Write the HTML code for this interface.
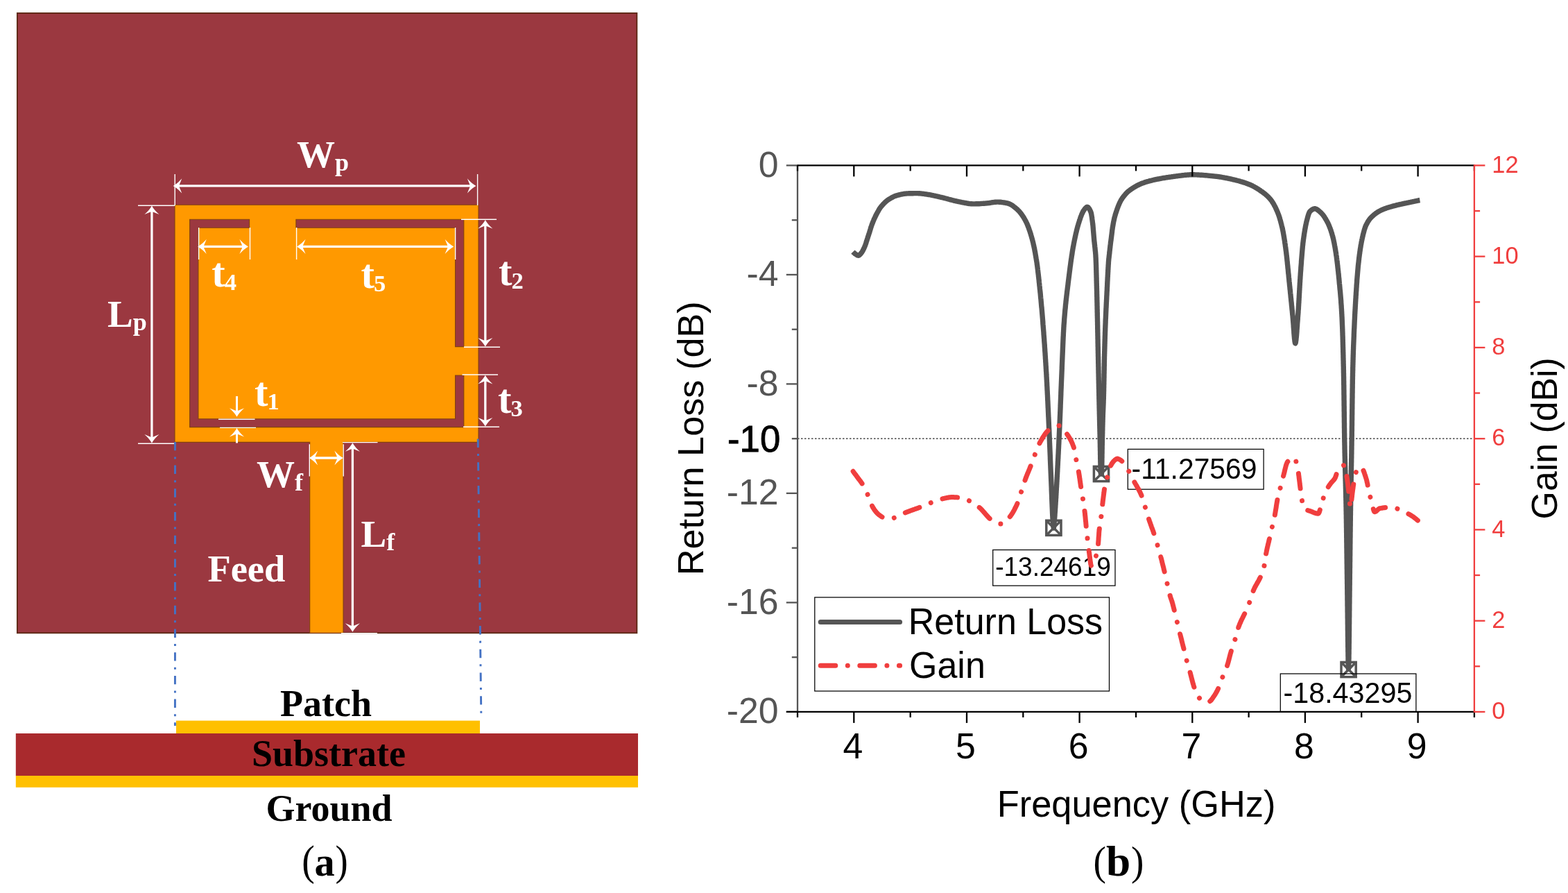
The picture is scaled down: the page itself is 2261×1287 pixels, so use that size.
<!DOCTYPE html>
<html lang="en"><head><meta charset="utf-8"><title>Patch antenna geometry and return loss / gain</title>
<style>
html,body{margin:0;padding:0;background:#fff;}
body{width:2261px;height:1287px;overflow:hidden;}
svg{display:block;position:absolute;left:0;top:0;}
text{white-space:pre;}
</style></head><body>
<svg width="2261" height="1287" viewBox="0 0 2261 1287">
<rect x="0" y="0" width="2261" height="1287" fill="#fff"/>

<g id="antenna">
<rect x="24.9" y="18.9" width="893.45" height="893.35" fill="#9B3840" stroke="#5E2A16" stroke-width="1.9"/>
<polygon points="252.0,295.2 690.0,295.2 690.0,637.4 495.0,637.4 495.0,912.2 446.7,912.2 446.7,637.4 252.0,637.4" fill="#FF9900" stroke="#82420F" stroke-width="1.1" stroke-linejoin="miter"/>
<polygon points="273.6,316.3 359.6,316.3 359.6,328.3 285.9,328.3 285.9,603.8 656.5,603.8 656.5,541.0 668.8,541.0 668.8,615.6 273.6,615.6" fill="#9B3840" stroke="#82420F" stroke-width="1.1" stroke-linejoin="miter"/>
<polygon points="426.9,316.3 668.8,316.3 668.8,499.6 656.5,499.6 656.5,328.3 426.9,328.3" fill="#9B3840" stroke="#82420F" stroke-width="1.1" stroke-linejoin="miter"/>
<line x1="252.2" y1="251" x2="252.2" y2="296" stroke="#fff" stroke-width="1.4"/>
<line x1="688.6" y1="251" x2="688.6" y2="296" stroke="#fff" stroke-width="1.4"/>
<line x1="253.7" y1="267.9" x2="682.4" y2="267.9" stroke="#fff" stroke-width="3.3"/><path d="M0,0 Q-6.30,-3.39 -12.6,-10.6 L-8.2,0 L-12.6,10.6 Q-6.30,3.39 0,0 Z" fill="#fff" transform="translate(249.7,267.9) rotate(180)"/><path d="M0,0 Q-6.30,-3.39 -12.6,-10.6 L-8.2,0 L-12.6,10.6 Q-6.30,3.39 0,0 Z" fill="#fff" transform="translate(686.4,267.9) rotate(0)"/>
<line x1="199" y1="296.2" x2="252" y2="296.2" stroke="#fff" stroke-width="1.4"/>
<line x1="199" y1="639.3" x2="252" y2="639.3" stroke="#fff" stroke-width="1.4"/>
<line x1="218.9" y1="300.5" x2="218.9" y2="634.6" stroke="#fff" stroke-width="3.3"/><path d="M0,0 Q-6.30,-3.39 -12.6,-10.6 L-8.2,0 L-12.6,10.6 Q-6.30,3.39 0,0 Z" fill="#fff" transform="translate(218.9,296.5) rotate(-90)"/><path d="M0,0 Q-6.30,-3.39 -12.6,-10.6 L-8.2,0 L-12.6,10.6 Q-6.30,3.39 0,0 Z" fill="#fff" transform="translate(218.9,638.6) rotate(90)"/>
<line x1="286.6" y1="328" x2="286.6" y2="374" stroke="#fff" stroke-width="1.4"/>
<line x1="360.5" y1="328" x2="360.5" y2="374" stroke="#fff" stroke-width="1.4"/>
<line x1="289.2" y1="355.4" x2="354" y2="355.4" stroke="#fff" stroke-width="3.3"/><path d="M0,0 Q-6.30,-3.39 -12.6,-10.6 L-8.2,0 L-12.6,10.6 Q-6.30,3.39 0,0 Z" fill="#fff" transform="translate(285.2,355.4) rotate(180)"/><path d="M0,0 Q-6.30,-3.39 -12.6,-10.6 L-8.2,0 L-12.6,10.6 Q-6.30,3.39 0,0 Z" fill="#fff" transform="translate(358,355.4) rotate(0)"/>
<line x1="427.6" y1="328" x2="427.6" y2="374" stroke="#fff" stroke-width="1.4"/>
<line x1="656.6" y1="328" x2="656.6" y2="374" stroke="#fff" stroke-width="1.4"/>
<line x1="432" y1="355.4" x2="650.2" y2="355.4" stroke="#fff" stroke-width="3.3"/><path d="M0,0 Q-6.30,-3.39 -12.6,-10.6 L-8.2,0 L-12.6,10.6 Q-6.30,3.39 0,0 Z" fill="#fff" transform="translate(428,355.4) rotate(180)"/><path d="M0,0 Q-6.30,-3.39 -12.6,-10.6 L-8.2,0 L-12.6,10.6 Q-6.30,3.39 0,0 Z" fill="#fff" transform="translate(654.2,355.4) rotate(0)"/>
<line x1="665" y1="316.2" x2="716" y2="316.2" stroke="#fff" stroke-width="1.4"/>
<line x1="669" y1="500.2" x2="721" y2="500.2" stroke="#fff" stroke-width="1.4"/>
<line x1="699.8" y1="321" x2="699.8" y2="495.5" stroke="#fff" stroke-width="3.3"/><path d="M0,0 Q-6.30,-3.39 -12.6,-10.6 L-8.2,0 L-12.6,10.6 Q-6.30,3.39 0,0 Z" fill="#fff" transform="translate(699.8,317) rotate(-90)"/><path d="M0,0 Q-6.30,-3.39 -12.6,-10.6 L-8.2,0 L-12.6,10.6 Q-6.30,3.39 0,0 Z" fill="#fff" transform="translate(699.8,499.5) rotate(90)"/>
<line x1="666.5" y1="540" x2="718" y2="540" stroke="#fff" stroke-width="1.4"/>
<line x1="668" y1="615.2" x2="720" y2="615.2" stroke="#fff" stroke-width="1.4"/>
<line x1="699.8" y1="544.8" x2="699.8" y2="610.5" stroke="#fff" stroke-width="3.3"/><path d="M0,0 Q-6.30,-3.39 -12.6,-10.6 L-8.2,0 L-12.6,10.6 Q-6.30,3.39 0,0 Z" fill="#fff" transform="translate(699.8,540.8) rotate(-90)"/><path d="M0,0 Q-6.30,-3.39 -12.6,-10.6 L-8.2,0 L-12.6,10.6 Q-6.30,3.39 0,0 Z" fill="#fff" transform="translate(699.8,614.5) rotate(90)"/>
<line x1="315" y1="604.2" x2="367.5" y2="604.2" stroke="#fff" stroke-width="1.4"/>
<line x1="317" y1="616.4" x2="369" y2="616.4" stroke="#fff" stroke-width="1.4"/>
<line x1="341.5" y1="571" x2="341.5" y2="595" stroke="#fff" stroke-width="3"/><path d="M0,0 Q-6.30,-3.39 -12.6,-10.6 L-8.2,0 L-12.6,10.6 Q-6.30,3.39 0,0 Z" fill="#fff" transform="translate(341.5,600.8) rotate(90)"/>
<line x1="341.5" y1="638.5" x2="341.5" y2="622" stroke="#fff" stroke-width="3"/><path d="M0,0 Q-6.30,-3.39 -12.6,-10.6 L-8.2,0 L-12.6,10.6 Q-6.30,3.39 0,0 Z" fill="#fff" transform="translate(341.5,617) rotate(-90)"/>
<line x1="446.3" y1="640.3" x2="446.3" y2="686.5" stroke="#fff" stroke-width="1.4"/>
<line x1="495.2" y1="640.3" x2="495.2" y2="686.5" stroke="#fff" stroke-width="1.4"/>
<line x1="449.6" y1="660" x2="490.9" y2="660" stroke="#fff" stroke-width="3.3"/><path d="M0,0 Q-6.30,-3.39 -12.6,-10.6 L-8.2,0 L-12.6,10.6 Q-6.30,3.39 0,0 Z" fill="#fff" transform="translate(445.6,660) rotate(180)"/><path d="M0,0 Q-6.30,-3.39 -12.6,-10.6 L-8.2,0 L-12.6,10.6 Q-6.30,3.39 0,0 Z" fill="#fff" transform="translate(494.9,660) rotate(0)"/>
<line x1="494" y1="637.6" x2="544.5" y2="637.6" stroke="#fff" stroke-width="1.4"/>
<line x1="492" y1="912.6" x2="544" y2="912.6" stroke="#fff" stroke-width="1.4"/>
<line x1="508.4" y1="642.2" x2="508.4" y2="906.8" stroke="#fff" stroke-width="3.3"/><path d="M0,0 Q-6.30,-3.39 -12.6,-10.6 L-8.2,0 L-12.6,10.6 Q-6.30,3.39 0,0 Z" fill="#fff" transform="translate(508.4,638.2) rotate(-90)"/><path d="M0,0 Q-6.30,-3.39 -12.6,-10.6 L-8.2,0 L-12.6,10.6 Q-6.30,3.39 0,0 Z" fill="#fff" transform="translate(508.4,910.8) rotate(90)"/>
<text x="428" y="241" font-family='"Liberation Serif", "DejaVu Serif", serif' font-weight="bold" fill="#fff" font-size="55">W<tspan font-size="36" dy="5" dx="0">p</tspan></text>
<text x="155" y="471" font-family='"Liberation Serif", "DejaVu Serif", serif' font-weight="bold" fill="#fff" font-size="55">L<tspan font-size="36" dy="5" dx="0">p</tspan></text>
<text font-family='"Liberation Serif", "DejaVu Serif", serif' font-weight="bold" fill="#fff"><tspan x="305.3" y="412.9" font-size="58.85" textLength="19.414" lengthAdjust="spacingAndGlyphs">t</tspan><tspan x="323.71" y="417.7" font-size="34.6">4</tspan></text>
<text font-family='"Liberation Serif", "DejaVu Serif", serif' font-weight="bold" fill="#fff"><tspan x="520.5" y="415.3" font-size="58.85" textLength="19.414" lengthAdjust="spacingAndGlyphs">t</tspan><tspan x="538.91" y="420.1" font-size="34.6">5</tspan></text>
<text font-family='"Liberation Serif", "DejaVu Serif", serif' font-weight="bold" fill="#fff"><tspan x="719" y="411.1" font-size="58.85" textLength="19.414" lengthAdjust="spacingAndGlyphs">t</tspan><tspan x="737.41" y="415.9" font-size="34.6">2</tspan></text>
<text font-family='"Liberation Serif", "DejaVu Serif", serif' font-weight="bold" fill="#fff"><tspan x="718" y="595.3" font-size="58.85" textLength="19.414" lengthAdjust="spacingAndGlyphs">t</tspan><tspan x="736.41" y="600.1" font-size="34.6">3</tspan></text>
<text font-family='"Liberation Serif", "DejaVu Serif", serif' font-weight="bold" fill="#fff"><tspan x="367" y="584.8" font-size="58.85" textLength="19.414" lengthAdjust="spacingAndGlyphs">t</tspan><tspan x="385.41" y="589.6" font-size="34.6">1</tspan></text>
<text x="370" y="702" font-family='"Liberation Serif", "DejaVu Serif", serif' font-weight="bold" fill="#fff" font-size="55">W<tspan font-size="36" dy="5" dx="0">f</tspan></text>
<text x="520.5" y="788.3" font-family='"Liberation Serif", "DejaVu Serif", serif' font-weight="bold" fill="#fff" font-size="55">L<tspan font-size="36" dy="5" dx="0">f</tspan></text>
<text x="299.4" y="838" font-family='"Liberation Serif", "DejaVu Serif", serif' font-size="54.5" font-weight="bold" fill="#fff" text-anchor="start" >Feed</text>
<line x1="252.5" y1="636.9" x2="252.4" y2="1046" stroke="#4472C4" stroke-width="2.9" stroke-dasharray="12.4,9.15,3,9.15"/>
<line x1="689.2" y1="632.5" x2="693.8" y2="1028" stroke="#4472C4" stroke-width="2.9" stroke-dasharray="12.4,9.15,3,9.15"/>
<rect x="254" y="1038.6" width="438" height="18.7" fill="#FFC000"/>
<rect x="22.8" y="1057" width="897.2" height="61.2" fill="#A92A2D"/>
<rect x="22.8" y="1118" width="897.2" height="16.8" fill="#FFC000"/>
<text x="470" y="1032.4" font-family='"Liberation Serif", "DejaVu Serif", serif' font-size="54" font-weight="bold" fill="#000" text-anchor="middle" >Patch</text>
<text x="474" y="1104.4" font-family='"Liberation Serif", "DejaVu Serif", serif' font-size="54" font-weight="bold" fill="#000" text-anchor="middle" >Substrate</text>
<text x="474.5" y="1182.6" font-family='"Liberation Serif", "DejaVu Serif", serif' font-size="54" font-weight="bold" fill="#000" text-anchor="middle" >Ground</text>
<text font-family='"Liberation Serif", "DejaVu Serif", serif' fill="#000"><tspan x="435.25" y="1261.18" font-size="60.22" font-weight="normal" textLength="18.541" lengthAdjust="spacingAndGlyphs">(</tspan><tspan x="453.52" y="1261.82" font-size="59.08" font-weight="bold" textLength="29.162" lengthAdjust="spacingAndGlyphs">a</tspan><tspan x="483.43" y="1261.18" font-size="60.22" font-weight="normal" textLength="18.282" lengthAdjust="spacingAndGlyphs">)</tspan></text>
</g>
<g id="chart">
<line x1="1150.0" y1="632.2" x2="2125.9" y2="632.2" stroke="#222" stroke-width="1.2" stroke-dasharray="2.5,2.5"/>
<polyline points="1229.9,363.0 1230.7,363.8 1231.6,364.6 1232.5,365.4 1233.5,366.1 1234.0,366.4 1234.5,366.7 1235.5,367.4 1236.5,368.0 1237.6,368.3 1237.8,368.3 1238.7,368.0 1239.8,367.1 1240.6,366.2 1241.4,365.3 1241.5,365.2 1242.2,364.3 1242.9,363.3 1243.6,362.2 1244.2,361.2 1244.7,360.1 1245.3,359.0 1245.8,357.9 1245.8,357.9 1246.3,356.7 1246.8,355.6 1247.2,354.5 1247.7,353.3 1248.1,352.2 1248.5,351.0 1248.9,349.9 1249.2,348.7 1249.6,347.6 1250.0,346.4 1250.3,345.3 1250.7,344.1 1251.1,343.0 1251.4,341.8 1251.8,340.7 1252.2,339.6 1252.3,339.2 1252.6,338.4 1252.9,337.3 1253.3,336.1 1253.7,335.0 1254.0,333.8 1254.4,332.7 1254.7,331.5 1255.1,330.4 1255.4,329.2 1255.8,328.1 1256.1,327.0 1256.5,325.9 1256.9,324.7 1257.3,323.6 1257.4,323.4 1257.7,322.5 1258.2,321.4 1258.6,320.3 1259.0,319.2 1259.5,318.1 1259.9,317.0 1260.4,315.9 1260.9,314.8 1261.4,313.8 1261.9,312.7 1262.4,311.6 1262.9,310.5 1263.5,309.5 1263.5,309.4 1264.0,308.4 1264.6,307.4 1265.1,306.3 1265.7,305.3 1266.3,304.3 1266.9,303.2 1267.5,302.2 1268.1,301.2 1268.8,300.2 1269.4,299.2 1270.1,298.3 1270.8,297.4 1270.9,297.3 1271.6,296.5 1272.4,295.6 1273.2,294.7 1274.0,293.8 1274.8,293.0 1275.7,292.1 1276.5,291.3 1277.4,290.5 1278.3,289.8 1279.2,289.0 1280.2,288.3 1281.1,287.6 1282.1,287.0 1282.1,287.0 1283.2,286.4 1284.2,285.8 1285.2,285.2 1286.3,284.6 1287.3,284.1 1288.4,283.5 1289.5,283.0 1290.6,282.6 1291.7,282.2 1292.8,281.8 1294.0,281.5 1294.2,281.4 1295.2,281.2 1296.3,280.9 1297.5,280.6 1298.6,280.3 1299.8,280.0 1301.0,279.8 1302.2,279.6 1303.3,279.4 1304.5,279.2 1305.7,279.1 1306.9,279.0 1308.1,278.9 1308.2,278.9 1309.3,278.9 1310.5,278.8 1311.7,278.8 1312.9,278.7 1314.1,278.7 1315.3,278.7 1316.5,278.7 1317.7,278.6 1318.9,278.6 1320.1,278.6 1321.3,278.6 1322.2,278.6 1322.5,278.6 1323.7,278.6 1324.9,278.7 1326.1,278.8 1327.3,278.9 1328.5,279.0 1329.7,279.1 1330.9,279.3 1332.1,279.4 1333.3,279.6 1334.4,279.8 1335.6,279.9 1336.2,280.0 1336.8,280.1 1338.0,280.3 1339.2,280.5 1340.4,280.7 1341.6,280.9 1342.7,281.1 1343.9,281.4 1345.1,281.6 1346.3,281.9 1347.4,282.1 1348.6,282.4 1349.8,282.7 1350.9,282.9 1352.1,283.2 1353.3,283.5 1354.5,283.7 1354.8,283.8 1355.6,284.0 1356.8,284.3 1358.0,284.5 1359.1,284.8 1360.3,285.1 1361.5,285.4 1362.6,285.7 1363.8,286.0 1364.9,286.3 1366.1,286.6 1367.3,287.0 1368.4,287.3 1369.6,287.6 1370.7,287.9 1371.9,288.2 1373.1,288.5 1374.2,288.8 1375.4,289.1 1376.6,289.4 1377.7,289.6 1378.9,289.9 1380.1,290.2 1381.2,290.4 1382.4,290.7 1383.6,290.9 1383.7,290.9 1384.8,291.1 1385.9,291.3 1387.1,291.6 1388.3,291.8 1389.5,292.0 1390.6,292.3 1391.8,292.5 1393.0,292.7 1394.2,293.0 1395.4,293.2 1396.5,293.3 1397.7,293.5 1398.9,293.6 1400.1,293.7 1401.3,293.8 1402.5,293.9 1403.6,293.9 1403.7,293.9 1404.9,293.9 1406.1,293.9 1407.3,293.8 1408.5,293.8 1409.7,293.8 1410.9,293.7 1412.1,293.7 1413.3,293.6 1414.5,293.5 1415.7,293.4 1416.9,293.4 1418.1,293.3 1419.3,293.2 1420.5,293.1 1421.0,293.1 1421.7,293.0 1422.9,292.9 1424.1,292.8 1425.3,292.6 1426.5,292.5 1427.6,292.3 1428.8,292.1 1430.0,291.9 1431.2,291.7 1432.4,291.6 1433.6,291.4 1434.8,291.3 1436.0,291.2 1437.2,291.1 1438.4,291.1 1438.4,291.1 1439.6,291.1 1440.8,291.2 1442.0,291.2 1443.2,291.3 1444.3,291.5 1445.5,291.6 1446.7,291.8 1447.9,292.0 1449.1,292.2 1450.3,292.5 1451.5,292.7 1452.6,292.9 1453.3,293.1 1453.8,293.2 1455.0,293.6 1456.1,294.1 1457.2,294.6 1458.2,295.2 1459.3,295.8 1460.3,296.5 1461.3,297.2 1462.2,298.0 1463.2,298.7 1464.1,299.5 1465.0,300.2 1465.7,300.8 1466.0,301.0 1466.9,301.8 1467.7,302.7 1468.6,303.5 1469.4,304.4 1470.2,305.3 1471.0,306.3 1471.8,307.2 1472.5,308.2 1473.2,309.2 1473.9,310.2 1474.6,311.2 1475.3,312.2 1475.9,313.2 1476.6,314.2 1477.2,315.3 1477.8,316.3 1478.2,317.0 1478.4,317.4 1479.0,318.5 1479.5,319.6 1480.1,320.7 1480.6,321.8 1481.1,322.9 1481.5,324.0 1482.0,325.1 1482.4,326.3 1482.9,327.4 1483.3,328.6 1483.7,329.7 1484.1,330.8 1484.5,332.0 1484.9,333.1 1485.3,334.3 1485.6,335.4 1486.0,336.6 1486.4,337.7 1486.7,338.9 1487.1,340.1 1487.4,341.2 1487.6,341.9 1487.7,342.4 1488.1,343.6 1488.4,344.7 1488.7,345.9 1489.0,347.1 1489.3,348.3 1489.6,349.4 1489.9,350.6 1490.1,351.8 1490.4,353.0 1490.7,354.2 1490.9,355.4 1491.2,356.6 1491.4,357.7 1491.7,358.9 1491.9,360.1 1492.1,361.3 1492.3,362.5 1492.6,363.7 1492.8,364.9 1493.0,366.1 1493.2,367.3 1493.4,368.4 1493.6,369.6 1493.8,370.8 1494.0,372.0 1494.2,373.2 1494.4,374.2 1494.4,374.4 1494.6,375.6 1494.8,376.8 1495.0,378.0 1495.2,379.2 1495.3,380.4 1495.5,381.6 1495.7,382.8 1495.8,384.0 1496.0,385.2 1496.1,386.4 1496.3,387.6 1496.4,388.8 1496.6,390.0 1496.7,391.2 1496.8,392.4 1497.0,393.6 1497.1,394.8 1497.3,396.0 1497.4,397.2 1497.5,398.4 1497.7,399.6 1497.8,400.8 1497.9,402.0 1498.1,403.2 1498.2,404.4 1498.3,405.6 1498.4,406.8 1498.6,408.0 1498.7,409.2 1498.8,410.4 1498.9,411.6 1499.1,412.8 1499.2,414.0 1499.2,414.0 1499.3,415.2 1499.4,416.4 1499.6,417.6 1499.7,418.8 1499.8,420.0 1499.9,421.2 1500.1,422.4 1500.2,423.6 1500.3,424.8 1500.4,426.0 1500.5,427.2 1500.6,428.4 1500.7,429.6 1500.9,430.8 1501.0,432.0 1501.1,433.2 1501.2,434.4 1501.3,435.6 1501.4,436.8 1501.5,437.9 1501.6,439.1 1501.7,440.3 1501.8,441.5 1501.9,442.7 1502.1,443.9 1502.2,445.1 1502.3,446.3 1502.4,447.5 1502.5,448.7 1502.6,449.9 1502.7,451.1 1502.8,452.3 1502.9,453.5 1503.0,454.7 1503.1,455.9 1503.2,457.1 1503.3,458.3 1503.4,459.5 1503.5,460.7 1503.6,461.9 1503.7,463.1 1503.8,464.3 1503.8,465.5 1503.9,466.7 1504.0,467.9 1504.1,468.7 1504.1,469.1 1504.2,470.3 1504.3,471.5 1504.4,472.7 1504.5,473.9 1504.6,475.1 1504.7,476.3 1504.8,477.5 1504.9,478.7 1505.0,479.9 1505.0,481.1 1505.1,482.3 1505.2,483.5 1505.3,484.7 1505.4,485.9 1505.5,487.1 1505.6,488.3 1505.7,489.5 1505.7,490.7 1505.8,491.9 1505.9,493.1 1506.0,494.3 1506.1,495.5 1506.2,496.7 1506.3,497.9 1506.3,499.1 1506.4,500.3 1506.5,501.5 1506.6,502.7 1506.7,503.9 1506.7,505.1 1506.8,506.3 1506.9,507.5 1507.0,508.7 1507.1,509.9 1507.1,511.1 1507.2,512.3 1507.3,513.5 1507.4,514.7 1507.4,515.9 1507.5,517.1 1507.6,518.3 1507.7,519.5 1507.7,520.7 1507.8,521.9 1507.9,523.1 1508.0,524.3 1508.0,525.5 1508.1,526.7 1508.2,527.9 1508.3,529.1 1508.3,530.3 1508.4,531.5 1508.5,532.7 1508.5,533.9 1508.6,535.1 1508.7,536.3 1508.8,537.5 1508.8,538.7 1508.9,539.9 1508.9,540.0 1509.0,541.2 1509.0,542.4 1509.1,543.6 1509.2,544.8 1509.2,546.0 1509.3,547.2 1509.4,548.4 1509.4,549.6 1509.5,550.8 1509.6,552.0 1509.6,553.2 1509.7,554.4 1509.7,555.6 1509.8,556.8 1509.9,558.0 1509.9,559.2 1510.0,560.4 1510.0,561.6 1510.1,562.8 1510.2,564.0 1510.2,565.2 1510.3,566.4 1510.3,567.6 1510.4,568.8 1510.5,570.0 1510.5,571.2 1510.6,572.4 1510.6,573.6 1510.7,574.8 1510.7,576.0 1510.8,577.2 1510.9,578.4 1510.9,579.6 1511.0,580.8 1511.0,582.0 1511.1,583.2 1511.1,584.4 1511.2,585.6 1511.2,586.8 1511.3,588.0 1511.4,589.2 1511.4,590.4 1511.5,591.6 1511.5,592.8 1511.6,594.0 1511.6,595.2 1511.7,596.4 1511.7,597.6 1511.8,598.8 1511.8,600.0 1511.9,601.2 1512.0,602.4 1512.0,603.6 1512.1,604.8 1512.1,606.0 1512.2,607.2 1512.2,608.4 1512.3,609.6 1512.3,610.8 1512.4,612.0 1512.4,613.2 1512.5,614.4 1512.5,614.6 1512.5,615.6 1512.6,616.8 1512.7,618.0 1512.7,619.2 1512.8,620.4 1512.8,621.6 1512.9,622.8 1512.9,624.0 1513.0,625.2 1513.0,626.4 1513.1,627.6 1513.1,628.8 1513.2,630.0 1513.2,631.2 1513.3,632.4 1513.3,633.6 1513.4,634.8 1513.4,636.0 1513.5,637.2 1513.5,638.4 1513.6,639.6 1513.6,640.8 1513.7,642.0 1513.7,643.2 1513.8,644.4 1513.8,645.6 1513.9,646.8 1513.9,648.0 1514.0,649.2 1514.0,650.4 1514.1,651.6 1514.1,652.8 1514.2,654.0 1514.2,655.2 1514.3,656.4 1514.3,657.6 1514.4,658.8 1514.4,660.0 1514.4,661.2 1514.5,662.4 1514.5,663.6 1514.6,664.8 1514.6,666.0 1514.7,667.2 1514.7,668.4 1514.8,669.6 1514.8,670.8 1514.9,672.0 1514.9,673.2 1515.0,674.4 1515.0,675.6 1515.1,676.8 1515.1,678.0 1515.2,679.2 1515.2,680.4 1515.3,681.6 1515.3,682.8 1515.4,684.0 1515.4,685.2 1515.5,686.4 1515.5,687.6 1515.6,688.8 1515.6,689.2 1515.6,690.0 1515.7,691.2 1515.7,692.4 1515.8,693.6 1515.8,694.8 1515.9,696.0 1515.9,697.2 1516.0,698.4 1516.0,699.6 1516.1,700.8 1516.1,702.0 1516.2,703.2 1516.2,704.4 1516.2,705.6 1516.3,706.8 1516.3,708.0 1516.4,709.2 1516.4,710.4 1516.5,711.6 1516.5,712.8 1516.6,714.0 1516.6,715.2 1516.7,716.4 1516.7,717.6 1516.7,718.8 1516.8,720.0 1516.8,721.2 1516.9,722.4 1516.9,723.6 1517.0,724.8 1517.0,726.0 1517.1,727.2 1517.1,728.4 1517.2,729.6 1517.2,730.8 1517.3,732.0 1517.3,733.1 1517.4,734.3 1517.4,735.5 1517.5,736.7 1517.5,737.9 1517.6,739.1 1517.6,740.3 1517.7,741.4 1517.7,742.6 1517.8,743.8 1517.9,745.0 1517.9,746.1 1518.0,747.3 1518.1,748.5 1518.2,749.6 1518.2,750.8 1518.3,751.4 1518.3,751.9 1518.4,753.1 1518.5,754.3 1518.6,755.5 1518.7,756.6 1518.9,757.8 1519.0,758.9 1519.1,759.9 1519.3,760.7 1519.4,760.8 1519.9,757.2 1520.0,756.0 1520.0,754.8 1520.1,753.6 1520.2,752.4 1520.3,751.4 1520.3,751.3 1520.4,750.1 1520.5,748.9 1520.6,747.6 1520.7,746.4 1520.8,745.2 1520.9,744.0 1521.0,742.8 1521.0,741.6 1521.1,740.4 1521.2,739.2 1521.3,738.0 1521.4,736.8 1521.5,735.6 1521.5,734.4 1521.6,733.2 1521.7,732.0 1521.8,730.8 1521.8,729.6 1521.9,728.4 1522.0,727.2 1522.1,726.0 1522.1,724.8 1522.2,723.6 1522.3,722.4 1522.4,721.2 1522.4,720.0 1522.5,718.8 1522.6,717.6 1522.7,716.4 1522.7,715.2 1522.8,714.0 1522.9,712.8 1522.9,711.6 1523.0,710.4 1523.1,709.2 1523.1,708.0 1523.2,706.8 1523.3,705.6 1523.3,704.4 1523.4,703.2 1523.5,702.0 1523.6,700.8 1523.6,699.6 1523.7,698.4 1523.8,697.2 1523.8,696.0 1523.9,694.8 1524.0,693.6 1524.0,692.4 1524.1,691.2 1524.2,690.0 1524.2,689.2 1524.2,688.8 1524.3,687.6 1524.4,686.4 1524.4,685.2 1524.5,684.0 1524.6,682.8 1524.6,681.6 1524.7,680.4 1524.8,679.2 1524.8,678.0 1524.9,676.8 1524.9,675.6 1525.0,674.4 1525.1,673.2 1525.1,672.0 1525.2,670.8 1525.3,669.6 1525.3,668.4 1525.4,667.1 1525.4,665.9 1525.5,664.7 1525.6,663.5 1525.6,662.3 1525.7,661.1 1525.8,659.9 1525.8,658.7 1525.9,657.5 1525.9,656.3 1526.0,655.1 1526.1,653.9 1526.1,652.7 1526.2,651.5 1526.2,650.3 1526.3,649.1 1526.3,647.9 1526.4,646.7 1526.5,645.5 1526.5,644.3 1526.6,643.1 1526.6,641.9 1526.7,640.7 1526.8,639.5 1526.8,638.3 1526.9,637.1 1526.9,635.9 1527.0,634.7 1527.0,633.5 1527.1,632.3 1527.1,631.1 1527.2,629.9 1527.3,628.7 1527.3,627.5 1527.4,626.3 1527.4,625.1 1527.5,623.9 1527.5,622.7 1527.6,621.5 1527.6,620.3 1527.7,619.1 1527.8,617.9 1527.8,616.7 1527.9,615.5 1527.9,614.6 1527.9,614.3 1528.0,613.1 1528.0,611.9 1528.1,610.7 1528.1,609.5 1528.2,608.3 1528.2,607.1 1528.3,605.9 1528.3,604.7 1528.4,603.5 1528.4,602.3 1528.5,601.1 1528.5,599.9 1528.6,598.7 1528.6,597.5 1528.7,596.3 1528.7,595.1 1528.8,593.9 1528.8,592.7 1528.9,591.5 1528.9,590.3 1529.0,589.1 1529.0,587.9 1529.1,586.7 1529.1,585.5 1529.1,584.3 1529.2,583.1 1529.2,581.9 1529.3,580.7 1529.3,579.5 1529.4,578.3 1529.4,577.1 1529.5,575.9 1529.5,574.7 1529.6,573.5 1529.6,572.3 1529.7,571.1 1529.7,569.9 1529.8,568.7 1529.8,567.5 1529.8,566.3 1529.9,565.1 1529.9,563.9 1530.0,562.7 1530.0,561.5 1530.1,560.3 1530.1,559.1 1530.2,557.9 1530.2,556.7 1530.3,555.5 1530.3,554.3 1530.4,553.1 1530.4,551.9 1530.5,550.7 1530.5,549.5 1530.6,548.3 1530.6,547.1 1530.7,545.9 1530.7,544.7 1530.8,543.5 1530.8,542.3 1530.9,541.1 1530.9,540.0 1530.9,540.0 1531.0,538.7 1531.0,537.5 1531.1,536.3 1531.1,535.1 1531.2,533.9 1531.2,532.7 1531.3,531.5 1531.3,530.3 1531.3,529.1 1531.4,527.9 1531.4,526.7 1531.5,525.5 1531.5,524.3 1531.6,523.1 1531.6,521.9 1531.7,520.7 1531.7,519.5 1531.8,518.3 1531.8,517.1 1531.9,515.9 1531.9,514.7 1532.0,513.5 1532.0,512.3 1532.1,511.1 1532.1,509.9 1532.2,508.7 1532.2,507.6 1532.3,506.4 1532.3,505.2 1532.4,504.0 1532.4,502.8 1532.5,501.6 1532.5,500.4 1532.6,499.2 1532.6,498.0 1532.7,496.8 1532.7,495.6 1532.8,494.4 1532.8,493.2 1532.9,492.0 1532.9,490.8 1533.0,489.6 1533.0,488.4 1533.1,487.2 1533.1,486.1 1533.2,484.9 1533.3,483.7 1533.3,482.5 1533.4,481.3 1533.4,480.1 1533.5,478.9 1533.6,477.7 1533.6,476.6 1533.7,475.4 1533.8,474.2 1533.8,473.0 1533.9,471.8 1534.0,470.7 1534.0,469.5 1534.1,468.7 1534.1,468.3 1534.2,467.1 1534.3,465.9 1534.4,464.8 1534.5,463.6 1534.6,462.4 1534.6,461.2 1534.7,460.0 1534.8,458.8 1534.9,457.6 1535.0,456.4 1535.1,455.3 1535.2,454.1 1535.3,452.9 1535.4,451.7 1535.5,450.5 1535.6,449.3 1535.7,448.1 1535.8,447.0 1535.9,445.8 1536.1,444.6 1536.2,443.4 1536.3,442.2 1536.4,441.0 1536.5,439.8 1536.6,438.7 1536.8,437.5 1536.9,436.3 1537.0,435.1 1537.1,433.9 1537.3,432.7 1537.4,431.5 1537.5,430.4 1537.7,429.2 1537.8,428.0 1537.9,426.8 1538.1,425.6 1538.2,424.4 1538.4,423.2 1538.5,422.1 1538.6,420.9 1538.8,419.7 1538.9,418.5 1539.1,417.3 1539.2,416.1 1539.4,414.9 1539.5,413.7 1539.7,412.5 1539.8,411.4 1540.0,410.2 1540.1,409.0 1540.2,407.8 1540.4,406.6 1540.4,406.5 1540.5,405.4 1540.7,404.2 1540.8,403.0 1541.0,401.8 1541.1,400.6 1541.3,399.4 1541.4,398.3 1541.6,397.1 1541.7,395.9 1541.9,394.7 1542.0,393.5 1542.2,392.3 1542.3,391.1 1542.5,389.9 1542.6,388.8 1542.8,387.6 1542.9,386.4 1543.1,385.2 1543.2,384.0 1543.4,382.8 1543.6,381.6 1543.7,380.5 1543.9,379.3 1544.0,378.1 1544.2,376.9 1544.4,375.7 1544.5,374.5 1544.7,373.4 1544.9,372.2 1545.1,371.0 1545.2,369.8 1545.4,368.6 1545.6,367.5 1545.8,366.3 1546.0,365.1 1546.1,363.9 1546.3,362.8 1546.5,361.6 1546.7,360.4 1546.9,359.2 1547.1,358.1 1547.3,356.9 1547.5,355.7 1547.8,354.6 1547.8,354.3 1548.0,353.4 1548.2,352.2 1548.4,351.0 1548.6,349.9 1548.9,348.7 1549.1,347.5 1549.3,346.4 1549.6,345.2 1549.8,344.0 1550.1,342.9 1550.3,341.7 1550.6,340.5 1550.8,339.4 1551.1,338.2 1551.3,337.0 1551.6,335.9 1551.9,334.7 1552.2,333.6 1552.4,332.4 1552.7,331.3 1553.0,330.1 1553.3,329.0 1553.6,327.8 1553.9,326.7 1554.2,325.5 1554.6,324.4 1554.9,323.2 1555.3,322.1 1555.3,322.0 1555.6,321.0 1556.0,319.8 1556.3,318.7 1556.7,317.6 1557.1,316.4 1557.5,315.3 1557.8,314.2 1558.2,313.1 1558.6,312.0 1559.1,310.8 1559.5,309.7 1559.9,308.7 1560.4,307.6 1560.9,306.5 1561.4,305.5 1561.9,304.5 1562.5,303.5 1562.7,303.3 1563.2,302.6 1563.9,301.6 1564.6,300.6 1565.4,299.8 1566.2,299.0 1567.1,298.4 1567.7,298.3 1568.2,298.4 1569.4,299.2 1570.2,300.2 1570.9,301.3 1571.5,302.4 1572.0,303.5 1572.5,304.6 1572.9,305.5 1573.0,305.8 1573.4,307.2 1573.7,308.5 1573.9,309.8 1574.1,311.0 1574.3,312.2 1574.5,313.4 1574.7,314.6 1574.8,315.9 1575.0,317.1 1575.1,318.3 1575.3,319.5 1575.4,320.7 1575.6,321.9 1575.6,322.0 1575.7,323.1 1575.9,324.4 1576.0,325.6 1576.1,326.8 1576.2,328.0 1576.3,329.3 1576.4,330.5 1576.5,331.7 1576.6,332.9 1576.7,334.1 1576.8,335.3 1576.9,336.5 1577.0,337.7 1577.1,338.9 1577.2,340.0 1577.3,341.2 1577.4,342.4 1577.5,343.6 1577.6,344.7 1577.6,345.0 1577.7,345.9 1577.8,347.1 1577.9,348.2 1578.1,349.4 1578.2,350.6 1578.3,351.8 1578.5,353.0 1578.6,354.2 1578.7,355.4 1578.9,356.6 1578.9,357.0 1579.0,357.8 1579.1,359.0 1579.2,360.2 1579.3,361.4 1579.5,362.6 1579.6,363.9 1579.7,365.1 1579.8,366.3 1579.9,367.6 1580.0,368.8 1580.0,370.1 1580.1,371.0 1580.1,371.3 1580.2,372.6 1580.2,373.9 1580.3,375.1 1580.3,376.4 1580.4,377.6 1580.4,378.8 1580.5,380.0 1580.5,381.3 1580.6,382.5 1580.6,383.7 1580.6,384.9 1580.7,386.1 1580.7,387.3 1580.7,388.5 1580.8,389.7 1580.8,390.9 1580.8,392.2 1580.9,393.4 1580.9,394.6 1580.9,395.8 1581.0,397.0 1581.0,398.2 1581.0,399.4 1581.1,400.6 1581.1,401.8 1581.1,403.0 1581.1,404.2 1581.2,405.4 1581.2,406.6 1581.2,407.8 1581.3,409.0 1581.3,410.0 1581.3,410.1 1581.3,411.4 1581.4,412.6 1581.4,413.8 1581.4,415.0 1581.5,416.2 1581.5,417.4 1581.5,418.6 1581.6,419.8 1581.6,421.0 1581.6,422.2 1581.6,423.4 1581.7,424.6 1581.7,425.8 1581.7,427.0 1581.8,428.2 1581.8,429.4 1581.8,430.6 1581.8,431.8 1581.9,433.0 1581.9,434.2 1581.9,435.4 1582.0,436.6 1582.0,437.8 1582.0,439.1 1582.0,440.3 1582.1,441.5 1582.1,442.7 1582.1,443.9 1582.1,445.1 1582.2,446.3 1582.2,447.5 1582.2,448.7 1582.2,449.9 1582.3,451.1 1582.3,452.3 1582.3,453.5 1582.3,454.7 1582.4,455.9 1582.4,457.0 1582.4,457.1 1582.4,458.3 1582.5,459.5 1582.5,460.7 1582.5,461.9 1582.5,463.1 1582.6,464.3 1582.6,465.5 1582.6,466.7 1582.6,467.9 1582.7,469.1 1582.7,470.3 1582.7,471.5 1582.7,472.7 1582.7,473.9 1582.8,475.1 1582.8,476.3 1582.8,477.5 1582.8,478.7 1582.9,479.9 1582.9,481.1 1582.9,482.3 1582.9,483.5 1583.0,484.7 1583.0,485.9 1583.0,487.1 1583.0,488.3 1583.1,489.5 1583.1,490.7 1583.1,491.9 1583.1,493.1 1583.1,494.3 1583.2,495.5 1583.2,496.7 1583.2,497.9 1583.2,499.1 1583.3,500.3 1583.3,501.5 1583.3,502.7 1583.3,503.9 1583.4,505.1 1583.4,506.3 1583.4,507.5 1583.4,508.7 1583.5,509.9 1583.5,511.1 1583.5,512.3 1583.5,513.5 1583.6,514.7 1583.6,515.9 1583.6,517.0 1583.6,517.1 1583.6,518.3 1583.7,519.5 1583.7,520.7 1583.7,521.9 1583.7,523.1 1583.8,524.3 1583.8,525.5 1583.8,526.7 1583.8,527.9 1583.9,529.1 1583.9,530.3 1583.9,531.5 1583.9,532.7 1584.0,533.9 1584.0,535.1 1584.0,536.3 1584.0,537.5 1584.1,538.7 1584.1,539.9 1584.1,541.1 1584.1,542.3 1584.2,543.5 1584.2,544.7 1584.2,545.9 1584.2,547.1 1584.3,548.3 1584.3,549.5 1584.3,550.6 1584.3,551.8 1584.4,553.0 1584.4,554.2 1584.4,555.4 1584.4,556.6 1584.5,557.8 1584.5,559.0 1584.5,560.2 1584.6,561.4 1584.6,562.6 1584.6,563.8 1584.6,565.0 1584.7,566.2 1584.7,567.4 1584.7,568.6 1584.7,569.8 1584.8,571.0 1584.8,572.2 1584.8,573.4 1584.8,574.6 1584.9,575.8 1584.9,577.0 1584.9,577.0 1584.9,578.2 1585.0,579.4 1585.0,580.6 1585.0,581.8 1585.0,583.0 1585.1,584.2 1585.1,585.4 1585.1,586.6 1585.1,587.8 1585.2,589.0 1585.2,590.2 1585.2,591.4 1585.3,592.6 1585.3,593.8 1585.3,595.0 1585.3,596.2 1585.4,597.4 1585.4,598.6 1585.4,599.8 1585.5,601.0 1585.5,602.2 1585.5,603.4 1585.5,604.6 1585.6,605.8 1585.6,607.0 1585.6,608.2 1585.7,609.4 1585.7,610.6 1585.7,611.8 1585.7,613.0 1585.8,614.2 1585.8,615.4 1585.8,616.6 1585.9,617.8 1585.9,619.0 1585.9,620.2 1585.9,621.4 1586.0,622.6 1586.0,623.8 1586.0,625.0 1586.1,626.2 1586.1,627.4 1586.1,628.6 1586.1,629.8 1586.2,631.0 1586.2,632.0 1586.2,632.2 1586.2,633.4 1586.3,634.6 1586.3,635.8 1586.3,637.1 1586.3,638.3 1586.4,639.5 1586.4,640.7 1586.4,641.9 1586.4,643.1 1586.4,644.3 1586.5,645.5 1586.5,646.7 1586.5,647.9 1586.5,649.1 1586.6,650.3 1586.6,651.6 1586.6,652.8 1586.6,654.0 1586.6,655.1 1586.7,656.3 1586.7,657.5 1586.7,658.7 1586.7,659.9 1586.7,661.1 1586.8,662.3 1586.8,663.5 1586.8,664.7 1586.8,665.9 1586.9,667.1 1586.9,668.3 1586.9,669.5 1586.9,670.6 1587.0,671.8 1587.0,673.0 1587.0,674.2 1587.0,675.3 1587.1,676.5 1587.1,677.6 1587.1,678.8 1587.2,679.9 1587.2,681.0 1587.3,682.0 1587.4,682.9 1587.4,683.0 1587.6,683.0 1588.4,683.0 1588.8,671.9 1588.8,670.7 1588.8,669.5 1588.8,668.3 1588.8,667.1 1588.9,665.8 1588.9,664.6 1588.9,663.4 1588.9,662.1 1588.9,660.8 1589.0,659.6 1589.0,658.3 1589.0,657.0 1589.0,655.7 1589.0,654.5 1589.1,653.2 1589.1,652.0 1589.1,650.7 1589.1,649.5 1589.1,648.3 1589.2,647.2 1589.2,646.0 1589.2,644.8 1589.2,643.6 1589.2,642.4 1589.3,641.3 1589.3,640.1 1589.3,640.0 1589.3,638.9 1589.4,637.7 1589.4,636.5 1589.4,635.3 1589.4,634.1 1589.5,632.9 1589.5,631.7 1589.5,630.5 1589.5,629.3 1589.6,628.1 1589.6,626.9 1589.6,625.7 1589.7,624.5 1589.7,623.3 1589.7,622.1 1589.7,620.9 1589.8,619.8 1589.8,618.6 1589.8,617.4 1589.8,616.2 1589.9,615.0 1589.9,613.8 1589.9,612.6 1590.0,611.4 1590.0,610.2 1590.0,609.0 1590.1,607.8 1590.1,606.7 1590.1,605.5 1590.2,604.3 1590.2,603.1 1590.2,603.0 1590.2,601.9 1590.3,600.7 1590.3,599.6 1590.3,598.4 1590.4,597.2 1590.4,596.0 1590.5,594.8 1590.5,593.7 1590.6,592.5 1590.6,591.3 1590.7,590.1 1590.7,588.9 1590.8,587.7 1590.8,586.5 1590.9,585.3 1590.9,584.1 1591.0,582.9 1591.0,581.7 1591.1,580.5 1591.1,579.2 1591.1,578.0 1591.2,576.8 1591.2,575.6 1591.3,574.4 1591.3,573.1 1591.3,571.9 1591.4,570.7 1591.4,570.0 1591.4,569.5 1591.4,568.3 1591.5,567.0 1591.5,565.8 1591.5,564.6 1591.6,563.4 1591.6,562.1 1591.6,560.9 1591.6,559.7 1591.7,558.5 1591.7,557.3 1591.7,556.1 1591.7,554.9 1591.8,553.7 1591.8,552.5 1591.8,551.3 1591.8,550.1 1591.9,548.9 1591.9,547.6 1591.9,546.4 1591.9,545.2 1592.0,544.0 1592.0,542.8 1592.0,541.6 1592.0,540.4 1592.0,539.2 1592.1,538.0 1592.1,536.8 1592.1,535.6 1592.1,534.4 1592.2,533.2 1592.2,532.0 1592.2,530.9 1592.2,529.7 1592.2,528.5 1592.3,527.3 1592.3,526.1 1592.3,524.9 1592.3,523.7 1592.4,522.5 1592.4,521.3 1592.4,520.1 1592.4,518.9 1592.5,517.7 1592.5,516.6 1592.5,515.4 1592.5,514.2 1592.6,513.0 1592.6,512.0 1592.6,511.8 1592.6,510.6 1592.7,509.4 1592.7,508.2 1592.7,507.1 1592.8,505.9 1592.8,504.7 1592.8,503.5 1592.9,502.3 1592.9,501.1 1592.9,499.9 1593.0,498.7 1593.0,497.5 1593.0,496.3 1593.1,495.1 1593.1,493.9 1593.1,492.7 1593.2,491.5 1593.2,490.3 1593.2,489.1 1593.3,488.0 1593.3,486.8 1593.3,485.6 1593.4,484.4 1593.4,483.2 1593.5,482.0 1593.5,480.8 1593.5,479.6 1593.6,478.4 1593.6,477.2 1593.7,476.0 1593.7,474.8 1593.7,473.6 1593.8,472.5 1593.8,472.0 1593.8,471.3 1593.9,470.1 1593.9,468.9 1594.0,467.7 1594.0,466.5 1594.1,465.3 1594.1,464.1 1594.1,462.9 1594.2,461.8 1594.2,460.6 1594.3,459.4 1594.4,458.2 1594.4,457.0 1594.5,455.8 1594.5,454.6 1594.6,453.4 1594.6,452.2 1594.7,451.0 1594.7,449.8 1594.8,448.6 1594.8,447.4 1594.9,446.2 1594.9,446.0 1594.9,445.0 1595.0,443.8 1595.1,442.7 1595.1,441.5 1595.2,440.3 1595.2,439.1 1595.3,437.9 1595.3,436.7 1595.4,435.5 1595.5,434.3 1595.5,433.1 1595.6,431.9 1595.7,430.7 1595.7,429.5 1595.8,428.3 1595.8,427.1 1595.9,425.9 1596.0,424.7 1596.0,423.5 1596.1,422.3 1596.1,421.1 1596.2,420.0 1596.2,419.9 1596.3,418.7 1596.3,417.5 1596.4,416.3 1596.4,415.1 1596.5,413.9 1596.6,412.7 1596.6,411.5 1596.7,410.3 1596.7,409.1 1596.8,407.9 1596.8,406.7 1596.9,405.5 1597.0,404.3 1597.0,403.1 1597.1,401.9 1597.1,400.7 1597.2,399.6 1597.3,398.4 1597.3,397.2 1597.4,396.0 1597.4,396.0 1597.5,394.8 1597.5,393.6 1597.6,392.4 1597.7,391.2 1597.7,390.0 1597.8,388.8 1597.9,387.6 1597.9,386.4 1598.0,385.2 1598.1,384.0 1598.1,382.9 1598.2,381.7 1598.3,380.5 1598.4,379.3 1598.4,378.2 1598.5,377.0 1598.6,376.0 1598.6,375.9 1598.7,374.7 1598.8,373.6 1598.9,372.4 1599.1,371.3 1599.2,370.1 1599.3,368.9 1599.5,367.7 1599.6,366.5 1599.8,365.3 1599.9,364.1 1599.9,364.0 1600.0,362.9 1600.1,361.7 1600.3,360.5 1600.4,359.3 1600.5,358.1 1600.7,356.9 1600.8,355.8 1600.9,354.6 1601.1,353.4 1601.1,353.0 1601.2,352.2 1601.3,351.1 1601.5,349.9 1601.6,348.7 1601.8,347.5 1602.0,346.3 1602.1,345.2 1602.3,344.0 1602.4,343.0 1602.4,342.8 1602.6,341.6 1602.7,340.3 1602.9,339.1 1603.0,338.0 1603.2,336.8 1603.3,335.6 1603.5,334.4 1603.6,333.2 1603.7,332.0 1603.9,330.8 1604.1,329.7 1604.2,328.5 1604.4,327.4 1604.6,326.2 1604.6,326.0 1604.8,325.1 1605.0,323.9 1605.2,322.7 1605.4,321.6 1605.6,320.4 1605.8,319.3 1606.1,318.1 1606.3,317.0 1606.6,315.8 1606.8,314.7 1607.1,313.5 1607.4,312.4 1607.7,311.3 1607.8,311.0 1608.0,310.2 1608.4,309.0 1608.7,307.9 1609.1,306.7 1609.5,305.6 1609.8,304.5 1610.2,303.4 1610.6,302.2 1611.0,301.1 1611.4,300.0 1611.8,298.9 1612.2,297.8 1612.6,296.7 1613.1,295.6 1613.6,294.5 1614.0,293.4 1614.5,292.4 1615.0,291.3 1615.6,290.2 1616.1,289.2 1616.7,288.2 1617.3,287.2 1617.4,287.1 1618.0,286.2 1618.6,285.2 1619.3,284.3 1620.0,283.3 1620.8,282.4 1621.5,281.5 1622.3,280.6 1623.0,279.7 1623.8,278.8 1624.7,277.9 1625.5,277.1 1626.4,276.3 1627.3,275.5 1628.2,274.8 1629.1,274.1 1629.9,273.5 1630.1,273.4 1631.1,272.7 1632.1,272.0 1633.1,271.4 1634.1,270.7 1635.1,270.1 1636.1,269.5 1637.1,268.9 1638.2,268.3 1639.2,267.7 1640.3,267.2 1641.4,266.6 1642.4,266.1 1643.5,265.6 1644.6,265.1 1645.7,264.6 1646.8,264.2 1647.9,263.8 1649.1,263.4 1650.2,263.0 1651.3,262.6 1652.3,262.3 1652.5,262.2 1653.6,261.9 1654.8,261.6 1655.9,261.3 1657.1,260.9 1658.2,260.6 1659.4,260.3 1660.6,260.1 1661.7,259.8 1662.9,259.5 1664.1,259.2 1665.2,259.0 1666.4,258.7 1667.6,258.5 1668.8,258.2 1669.9,258.0 1671.1,257.8 1672.3,257.5 1673.5,257.3 1674.7,257.1 1675.8,256.9 1677.0,256.7 1678.2,256.5 1679.4,256.3 1680.6,256.1 1681.8,255.9 1682.9,255.7 1684.1,255.6 1685.3,255.4 1686.5,255.2 1687.7,255.1 1688.9,254.9 1689.6,254.8 1690.1,254.7 1691.3,254.6 1692.4,254.4 1693.6,254.2 1694.8,254.1 1696.0,253.9 1697.2,253.8 1698.4,253.6 1699.6,253.4 1700.8,253.3 1702.0,253.1 1703.2,253.0 1704.3,252.8 1705.5,252.7 1706.7,252.6 1707.9,252.4 1709.1,252.3 1710.3,252.2 1711.5,252.1 1712.7,252.0 1713.9,252.0 1715.1,251.9 1716.3,251.8 1717.5,251.8 1718.7,251.8 1719.3,251.8 1719.9,251.8 1721.1,251.8 1722.3,251.8 1723.5,251.9 1724.7,251.9 1725.9,251.9 1727.1,252.0 1728.3,252.0 1729.5,252.1 1730.7,252.2 1731.9,252.2 1733.1,252.3 1734.3,252.4 1735.5,252.5 1736.7,252.6 1737.9,252.7 1739.1,252.8 1740.3,252.9 1741.5,253.0 1742.6,253.1 1743.8,253.3 1745.0,253.4 1746.2,253.5 1747.4,253.6 1748.6,253.7 1749.8,253.9 1751.0,254.0 1752.2,254.1 1752.2,254.1 1753.4,254.2 1754.6,254.4 1755.8,254.5 1757.0,254.7 1758.2,254.8 1759.3,255.0 1760.5,255.2 1761.7,255.4 1762.9,255.6 1764.1,255.8 1765.3,256.0 1766.4,256.3 1767.6,256.5 1768.8,256.7 1770.0,257.0 1771.1,257.2 1772.3,257.5 1773.5,257.7 1774.7,258.0 1775.8,258.2 1777.0,258.5 1777.0,258.5 1778.2,258.8 1779.4,259.0 1780.5,259.3 1781.7,259.6 1782.9,259.9 1784.0,260.2 1785.2,260.5 1786.3,260.8 1787.5,261.1 1788.6,261.5 1789.8,261.8 1791.0,262.1 1792.1,262.5 1793.2,262.9 1794.4,263.2 1795.5,263.6 1796.7,264.0 1797.8,264.4 1798.9,264.8 1800.0,265.3 1801.2,265.7 1801.9,266.0 1802.3,266.2 1803.4,266.6 1804.5,267.1 1805.6,267.6 1806.7,268.2 1807.7,268.7 1808.8,269.3 1809.8,269.9 1810.9,270.5 1811.9,271.1 1812.9,271.8 1814.0,272.4 1815.0,273.0 1816.0,273.7 1817.0,274.4 1818.0,275.1 1818.9,275.8 1819.3,276.0 1819.9,276.4 1820.9,277.1 1821.9,277.9 1822.8,278.6 1823.8,279.3 1824.7,280.1 1825.7,280.9 1826.6,281.7 1827.5,282.5 1828.3,283.3 1829.2,284.2 1830.0,285.1 1830.8,286.0 1831.6,286.9 1831.8,287.1 1832.4,287.8 1833.1,288.8 1833.9,289.8 1834.5,290.8 1835.2,291.9 1835.8,292.9 1836.5,293.9 1837.1,295.0 1837.6,296.1 1838.2,297.1 1838.8,298.2 1839.3,299.3 1839.8,300.4 1840.3,301.5 1840.8,302.6 1841.3,303.7 1841.7,304.6 1841.8,304.8 1842.3,306.0 1842.7,307.1 1843.2,308.3 1843.6,309.4 1844.0,310.6 1844.4,311.7 1844.8,312.9 1845.1,314.0 1845.5,315.2 1845.8,316.4 1846.2,317.5 1846.5,318.7 1846.8,319.9 1847.1,321.0 1847.4,322.2 1847.8,323.4 1848.0,324.6 1848.3,325.7 1848.6,326.9 1848.9,328.1 1849.2,329.3 1849.2,329.4 1849.4,330.5 1849.7,331.7 1849.9,332.9 1850.2,334.1 1850.4,335.3 1850.6,336.5 1850.8,337.7 1851.0,338.9 1851.2,340.0 1851.4,341.2 1851.6,342.4 1851.8,343.6 1852.0,344.8 1852.2,346.0 1852.4,347.2 1852.6,348.4 1852.7,349.6 1852.9,350.8 1853.1,352.0 1853.3,353.2 1853.4,354.4 1853.6,355.6 1853.8,356.8 1853.9,358.0 1854.1,359.2 1854.1,359.3 1854.2,360.4 1854.4,361.6 1854.6,362.8 1854.7,364.0 1854.8,365.2 1855.0,366.4 1855.1,367.6 1855.3,368.8 1855.4,370.0 1855.5,371.2 1855.7,372.4 1855.8,373.6 1855.9,374.8 1856.0,376.0 1856.2,377.2 1856.3,378.4 1856.4,379.6 1856.5,380.8 1856.7,382.0 1856.8,383.2 1856.9,384.4 1857.0,385.6 1857.1,386.8 1857.3,388.0 1857.4,389.2 1857.5,390.4 1857.6,391.6 1857.7,392.8 1857.8,394.0 1858.0,395.1 1858.1,396.3 1858.2,397.5 1858.3,398.7 1858.4,399.9 1858.6,401.1 1858.7,402.3 1858.8,403.5 1858.9,404.7 1859.0,405.9 1859.1,406.5 1859.2,407.1 1859.3,408.3 1859.4,409.5 1859.5,410.6 1859.6,411.8 1859.8,413.0 1859.9,414.2 1860.0,415.4 1860.1,416.6 1860.3,417.8 1860.4,419.0 1860.5,420.2 1860.6,421.4 1860.7,422.6 1860.9,423.8 1861.0,425.0 1861.1,426.2 1861.2,427.4 1861.3,428.6 1861.5,429.8 1861.6,431.0 1861.7,432.1 1861.8,433.3 1861.9,434.5 1862.1,435.7 1862.2,436.9 1862.3,438.1 1862.4,439.3 1862.5,440.5 1862.7,441.7 1862.8,442.9 1862.9,444.1 1863.0,445.3 1863.1,446.5 1863.3,447.7 1863.4,448.9 1863.5,450.1 1863.6,451.3 1863.7,452.5 1863.8,453.7 1864.0,454.8 1864.1,456.0 1864.1,456.3 1864.2,457.3 1864.3,458.5 1864.4,459.7 1864.5,460.9 1864.6,462.1 1864.7,463.4 1864.8,464.6 1864.9,465.8 1865.0,467.0 1865.1,468.2 1865.2,469.4 1865.2,470.6 1865.3,471.8 1865.4,473.0 1865.5,474.2 1865.6,475.4 1865.7,476.6 1865.8,477.7 1865.8,478.9 1865.9,480.1 1866.0,481.3 1866.1,482.5 1866.2,483.7 1866.3,484.8 1866.4,486.0 1866.5,487.2 1866.6,488.3 1866.8,489.5 1866.9,490.6 1867.0,491.8 1867.2,492.8 1867.4,493.9 1867.6,494.7 1867.8,494.8 1868.3,493.8 1868.5,492.3 1868.7,491.0 1868.9,489.7 1869.0,488.5 1869.1,487.2 1869.3,486.0 1869.4,484.8 1869.5,483.6 1869.6,482.4 1869.7,481.1 1869.8,479.9 1869.9,478.7 1870.0,477.5 1870.0,476.3 1870.1,475.1 1870.2,473.9 1870.3,472.7 1870.4,471.5 1870.5,470.3 1870.6,469.1 1870.6,467.9 1870.7,466.7 1870.8,465.5 1870.9,464.3 1871.0,463.1 1871.1,461.9 1871.2,460.7 1871.3,459.6 1871.3,458.4 1871.4,457.2 1871.5,456.3 1871.5,456.0 1871.6,454.8 1871.7,453.6 1871.8,452.4 1871.9,451.1 1872.0,449.9 1872.0,448.7 1872.1,447.5 1872.2,446.3 1872.3,445.1 1872.4,443.9 1872.4,442.7 1872.5,441.5 1872.6,440.3 1872.6,439.1 1872.7,437.9 1872.8,436.7 1872.9,435.5 1872.9,434.3 1873.0,433.1 1873.1,431.9 1873.1,430.7 1873.2,429.5 1873.3,428.3 1873.3,427.1 1873.4,425.9 1873.5,424.7 1873.5,423.5 1873.6,422.3 1873.7,421.1 1873.7,419.9 1873.8,418.7 1873.9,417.5 1873.9,416.3 1874.0,415.1 1874.1,413.9 1874.1,412.7 1874.2,411.5 1874.3,410.3 1874.3,409.1 1874.4,407.9 1874.5,406.7 1874.6,405.5 1874.6,404.3 1874.7,403.2 1874.8,402.0 1874.9,400.8 1874.9,399.6 1875.0,398.4 1875.1,397.2 1875.2,396.0 1875.2,394.9 1875.3,394.1 1875.3,393.7 1875.4,392.5 1875.5,391.3 1875.6,390.1 1875.7,388.9 1875.8,387.7 1875.8,386.5 1875.9,385.3 1876.0,384.1 1876.1,382.9 1876.2,381.7 1876.3,380.5 1876.4,379.3 1876.5,378.1 1876.5,376.9 1876.6,375.7 1876.7,374.5 1876.8,373.4 1876.9,372.2 1877.0,371.0 1877.1,369.8 1877.2,368.6 1877.3,367.4 1877.4,366.2 1877.5,365.0 1877.6,363.8 1877.7,362.7 1877.8,361.5 1877.9,360.3 1878.0,359.1 1878.1,357.9 1878.2,356.7 1878.3,355.6 1878.4,354.4 1878.6,353.2 1878.7,352.0 1878.8,350.9 1878.9,349.7 1879.0,349.3 1879.1,348.6 1879.2,347.4 1879.4,346.2 1879.5,345.0 1879.7,343.8 1879.9,342.7 1880.0,341.5 1880.2,340.3 1880.4,339.1 1880.5,338.0 1880.7,336.8 1880.9,335.6 1881.1,334.4 1881.3,333.3 1881.5,332.1 1881.6,330.9 1881.9,329.8 1882.1,328.6 1882.3,327.4 1882.5,326.3 1882.7,325.1 1883.0,324.0 1883.2,322.8 1883.5,321.7 1883.7,320.5 1884.0,319.5 1884.0,319.4 1884.3,318.2 1884.6,317.1 1884.9,315.9 1885.2,314.8 1885.5,313.6 1885.8,312.5 1886.1,311.3 1886.5,310.2 1886.8,309.1 1887.2,308.0 1887.6,307.0 1888.1,306.0 1888.6,305.0 1889.0,304.6 1889.3,304.3 1890.2,303.5 1891.1,302.8 1892.1,302.1 1893.1,301.5 1894.2,301.1 1895.3,300.8 1895.9,300.8 1896.5,300.8 1897.7,301.2 1898.8,301.7 1899.8,302.4 1900.8,303.1 1901.7,303.9 1902.7,304.7 1903.6,305.5 1903.9,305.8 1904.5,306.3 1905.4,307.2 1906.2,308.1 1907.0,309.0 1907.8,309.9 1908.5,310.9 1909.2,311.9 1909.9,312.9 1910.5,313.9 1911.2,315.0 1911.8,316.0 1912.4,317.1 1913.0,318.1 1913.6,319.2 1913.8,319.5 1914.2,320.3 1914.8,321.3 1915.3,322.5 1915.8,323.6 1916.3,324.7 1916.7,325.8 1917.2,327.0 1917.6,328.1 1918.1,329.2 1918.5,330.4 1918.9,331.5 1919.3,332.7 1919.6,333.8 1920.0,335.0 1920.4,336.2 1920.7,337.3 1921.0,338.5 1921.3,339.4 1921.4,339.7 1921.7,340.8 1922.0,342.0 1922.3,343.2 1922.6,344.4 1922.9,345.6 1923.1,346.8 1923.4,348.0 1923.6,349.2 1923.9,350.4 1924.1,351.6 1924.3,352.7 1924.5,353.9 1924.8,355.1 1925.0,356.3 1925.2,357.5 1925.4,358.7 1925.6,359.9 1925.8,361.1 1926.0,362.3 1926.2,363.5 1926.3,364.2 1926.4,364.7 1926.6,365.9 1926.7,367.1 1926.9,368.3 1927.1,369.5 1927.3,370.7 1927.4,371.9 1927.6,373.1 1927.7,374.3 1927.9,375.5 1928.0,376.7 1928.2,377.9 1928.3,379.1 1928.5,380.3 1928.6,381.5 1928.7,382.7 1928.9,383.9 1929.0,385.1 1929.1,386.3 1929.3,387.5 1929.4,388.7 1929.5,389.9 1929.7,391.1 1929.8,392.3 1929.9,393.5 1930.0,394.7 1930.2,395.9 1930.3,397.1 1930.4,398.3 1930.5,399.5 1930.6,400.7 1930.8,401.9 1930.9,403.1 1931.0,404.3 1931.1,405.5 1931.2,406.5 1931.2,406.7 1931.3,407.9 1931.4,409.1 1931.6,410.3 1931.7,411.5 1931.8,412.7 1931.9,413.9 1932.0,415.1 1932.1,416.3 1932.2,417.5 1932.4,418.7 1932.5,419.9 1932.6,421.1 1932.7,422.3 1932.8,423.5 1932.9,424.7 1933.0,425.9 1933.1,427.1 1933.2,428.3 1933.3,429.5 1933.4,430.7 1933.5,431.9 1933.6,433.1 1933.7,434.3 1933.7,435.6 1933.8,436.8 1933.9,438.0 1934.0,439.2 1934.1,440.4 1934.2,441.6 1934.2,442.8 1934.3,444.0 1934.4,445.2 1934.5,446.4 1934.5,447.7 1934.6,448.9 1934.7,450.1 1934.7,451.3 1934.8,452.5 1934.9,453.7 1934.9,454.9 1935.0,456.1 1935.0,456.3 1935.1,457.3 1935.1,458.6 1935.2,459.8 1935.2,461.0 1935.3,462.2 1935.3,463.4 1935.4,464.6 1935.4,465.8 1935.5,467.1 1935.5,468.3 1935.6,469.5 1935.6,470.7 1935.7,471.9 1935.7,473.1 1935.8,474.3 1935.8,475.5 1935.8,476.7 1935.9,477.9 1935.9,479.2 1936.0,480.4 1936.0,481.6 1936.0,482.8 1936.1,484.0 1936.1,485.2 1936.2,486.4 1936.2,487.6 1936.2,488.8 1936.3,490.0 1936.3,491.2 1936.3,492.4 1936.4,493.6 1936.4,494.8 1936.4,496.1 1936.5,497.3 1936.5,498.5 1936.5,499.7 1936.6,500.9 1936.6,502.1 1936.6,503.3 1936.7,504.5 1936.7,505.7 1936.7,506.9 1936.8,508.1 1936.8,509.3 1936.8,510.5 1936.9,511.7 1936.9,512.9 1936.9,514.1 1936.9,515.3 1937.0,516.5 1937.0,517.7 1937.0,518.9 1937.1,520.2 1937.1,521.4 1937.1,522.6 1937.1,523.8 1937.2,525.0 1937.2,526.2 1937.2,527.4 1937.3,528.6 1937.3,529.8 1937.3,531.0 1937.3,532.2 1937.4,533.4 1937.4,534.6 1937.4,535.8 1937.4,537.0 1937.5,538.2 1937.5,539.4 1937.5,540.0 1937.5,540.6 1937.5,541.8 1937.6,543.1 1937.6,544.3 1937.6,545.5 1937.6,546.7 1937.6,547.9 1937.7,549.2 1937.7,550.4 1937.7,551.6 1937.7,552.9 1937.7,554.2 1937.8,555.6 1937.8,556.9 1937.8,558.3 1937.8,559.7 1937.8,561.1 1937.9,562.6 1937.9,564.0 1937.9,565.5 1937.9,567.0 1937.9,568.5 1938.0,570.0 1938.0,571.6 1938.0,573.1 1938.0,574.7 1938.0,576.3 1938.1,577.8 1938.1,579.4 1938.1,581.0 1938.1,582.6 1938.1,584.2 1938.2,585.9 1938.2,587.5 1938.2,589.1 1938.2,590.7 1938.2,592.4 1938.3,594.0 1938.3,595.6 1938.3,597.2 1938.3,598.8 1938.3,600.5 1938.4,602.1 1938.4,603.7 1938.4,605.3 1938.4,606.9 1938.4,608.4 1938.5,610.0 1938.5,611.6 1938.5,613.1 1938.5,614.6 1938.5,616.2 1938.6,617.7 1938.6,619.1 1938.6,620.6 1938.6,622.1 1938.6,623.5 1938.7,624.9 1938.7,626.3 1938.7,627.7 1938.7,629.0 1938.7,630.4 1938.8,631.7 1938.8,632.9 1938.8,634.2 1938.8,635.4 1938.8,636.6 1938.9,637.8 1938.9,639.0 1938.9,639.5 1938.9,640.1 1938.9,641.3 1939.0,642.5 1939.0,643.7 1939.0,644.9 1939.0,646.1 1939.0,647.3 1939.1,648.5 1939.1,649.7 1939.1,650.9 1939.1,652.1 1939.2,653.3 1939.2,654.4 1939.2,655.6 1939.2,656.8 1939.3,658.0 1939.3,659.2 1939.3,660.4 1939.4,661.6 1939.4,662.8 1939.4,664.0 1939.4,665.2 1939.5,666.4 1939.5,667.6 1939.5,668.8 1939.5,670.0 1939.6,671.2 1939.6,672.3 1939.6,673.5 1939.7,674.7 1939.7,675.9 1939.7,677.1 1939.8,678.3 1939.8,679.5 1939.8,680.7 1939.9,681.9 1939.9,683.1 1939.9,684.3 1939.9,685.5 1940.0,686.7 1940.0,687.9 1940.0,689.1 1940.1,690.3 1940.1,691.5 1940.1,692.7 1940.2,693.9 1940.2,695.1 1940.2,696.3 1940.3,697.5 1940.3,698.7 1940.3,699.9 1940.4,701.1 1940.4,702.3 1940.4,703.5 1940.5,704.7 1940.5,705.9 1940.5,707.1 1940.5,708.3 1940.6,709.5 1940.6,710.8 1940.6,712.0 1940.7,713.2 1940.7,714.4 1940.7,715.6 1940.7,716.8 1940.8,718.0 1940.8,719.2 1940.8,720.4 1940.9,721.6 1940.9,722.8 1940.9,724.0 1940.9,725.2 1941.0,726.4 1941.0,727.6 1941.0,728.9 1941.0,730.1 1941.1,731.3 1941.1,732.5 1941.1,733.7 1941.1,734.9 1941.1,736.1 1941.2,737.3 1941.2,738.5 1941.2,739.0 1941.2,739.7 1941.2,740.9 1941.3,742.1 1941.3,743.4 1941.3,744.6 1941.3,745.8 1941.3,747.0 1941.4,748.2 1941.4,749.5 1941.4,750.7 1941.4,752.0 1941.4,753.3 1941.5,754.6 1941.5,755.9 1941.5,757.3 1941.5,758.6 1941.5,760.0 1941.6,761.3 1941.6,762.7 1941.6,764.1 1941.6,765.5 1941.6,766.9 1941.7,768.4 1941.7,769.8 1941.7,771.3 1941.7,772.7 1941.7,774.2 1941.8,775.6 1941.8,777.1 1941.8,778.6 1941.8,780.1 1941.8,781.6 1941.9,783.1 1941.9,784.6 1941.9,786.1 1941.9,787.6 1941.9,789.1 1942.0,790.7 1942.0,792.2 1942.0,793.7 1942.0,795.2 1942.0,796.8 1942.1,798.3 1942.1,799.8 1942.1,801.4 1942.1,802.9 1942.1,804.4 1942.2,805.9 1942.2,807.5 1942.2,809.0 1942.2,810.5 1942.2,812.0 1942.3,813.5 1942.3,815.0 1942.3,816.5 1942.3,818.0 1942.3,819.5 1942.4,821.0 1942.4,822.5 1942.4,824.0 1942.4,825.4 1942.4,826.9 1942.5,828.3 1942.5,829.8 1942.5,831.2 1942.5,832.6 1942.5,834.1 1942.6,835.5 1942.6,836.8 1942.6,838.2 1942.6,838.4 1942.6,839.6 1942.6,841.0 1942.7,842.4 1942.7,843.9 1942.7,845.4 1942.7,846.9 1942.7,848.4 1942.8,849.9 1942.8,851.5 1942.8,853.1 1942.8,854.7 1942.8,856.3 1942.9,857.9 1942.9,859.5 1942.9,861.2 1942.9,862.9 1942.9,864.5 1943.0,866.2 1943.0,867.9 1943.0,869.6 1943.0,871.4 1943.0,873.1 1943.1,874.8 1943.1,876.6 1943.1,878.3 1943.1,880.1 1943.1,881.8 1943.2,883.6 1943.2,885.3 1943.2,887.1 1943.2,888.9 1943.2,890.6 1943.3,892.4 1943.3,894.2 1943.3,895.9 1943.3,897.7 1943.3,899.4 1943.4,901.2 1943.4,902.9 1943.4,904.6 1943.4,906.3 1943.4,908.1 1943.5,909.8 1943.5,911.5 1943.5,913.1 1943.5,914.8 1943.5,916.5 1943.6,918.1 1943.6,919.7 1943.6,921.3 1943.6,922.9 1943.6,924.5 1943.7,926.1 1943.7,927.6 1943.7,929.1 1943.7,930.6 1943.7,932.1 1943.8,933.6 1943.8,935.0 1943.8,936.4 1943.8,937.8 1943.8,939.2 1943.9,940.5 1943.9,941.8 1943.9,943.1 1943.9,944.3 1943.9,945.5 1944.0,946.7 1944.0,947.9 1944.0,949.1 1944.0,950.3 1944.0,951.4 1944.1,952.6 1944.1,953.8 1944.1,955.0 1944.1,956.1 1944.2,957.3 1944.2,958.4 1944.2,959.6 1944.3,960.7 1944.3,961.8 1944.4,962.8 1944.4,963.7 1944.5,964.0 1944.6,963.5 1944.7,961.6 1944.7,960.3 1944.8,959.0 1944.8,957.7 1944.8,956.5 1944.8,955.2 1944.9,954.0 1944.9,952.8 1944.9,951.5 1944.9,950.3 1945.0,949.1 1945.0,947.9 1945.0,946.6 1945.0,945.2 1945.0,943.9 1945.1,942.5 1945.1,941.0 1945.1,939.6 1945.1,938.1 1945.1,936.5 1945.2,935.0 1945.2,933.4 1945.2,931.7 1945.2,930.1 1945.2,928.4 1945.3,926.7 1945.3,925.0 1945.3,923.2 1945.3,921.4 1945.3,919.6 1945.4,917.8 1945.4,916.0 1945.4,914.1 1945.4,912.3 1945.4,910.4 1945.5,908.5 1945.5,906.6 1945.5,904.7 1945.5,902.7 1945.5,900.8 1945.6,898.8 1945.6,896.9 1945.6,894.9 1945.6,893.0 1945.6,891.0 1945.7,889.0 1945.7,887.1 1945.7,885.1 1945.7,883.1 1945.7,881.1 1945.8,879.2 1945.8,877.2 1945.8,875.3 1945.8,873.3 1945.8,871.4 1945.9,869.4 1945.9,867.5 1945.9,865.6 1945.9,863.7 1945.9,861.8 1946.0,860.0 1946.0,858.1 1946.0,856.3 1946.0,854.5 1946.0,852.7 1946.1,850.9 1946.1,849.2 1946.1,847.4 1946.1,845.7 1946.1,844.0 1946.2,842.4 1946.2,840.8 1946.2,839.2 1946.2,838.4 1946.2,837.6 1946.2,836.0 1946.3,834.4 1946.3,832.8 1946.3,831.2 1946.3,829.5 1946.3,827.9 1946.4,826.2 1946.4,824.6 1946.4,822.9 1946.4,821.2 1946.4,819.5 1946.5,817.8 1946.5,816.1 1946.5,814.4 1946.5,812.7 1946.5,810.9 1946.6,809.2 1946.6,807.4 1946.6,805.7 1946.6,804.0 1946.6,802.2 1946.7,800.5 1946.7,798.7 1946.7,796.9 1946.7,795.2 1946.7,793.4 1946.8,791.7 1946.8,789.9 1946.8,788.2 1946.8,786.4 1946.8,784.7 1946.9,783.0 1946.9,781.2 1946.9,779.5 1946.9,777.8 1946.9,776.0 1947.0,774.3 1947.0,772.6 1947.0,770.9 1947.0,769.3 1947.0,767.6 1947.1,765.9 1947.1,764.3 1947.1,762.6 1947.1,761.0 1947.1,759.4 1947.2,757.7 1947.2,756.1 1947.2,754.6 1947.2,753.0 1947.2,751.5 1947.3,749.9 1947.3,748.4 1947.3,746.9 1947.3,745.4 1947.3,744.0 1947.4,742.5 1947.4,741.1 1947.4,739.7 1947.4,739.0 1947.4,738.3 1947.4,736.9 1947.5,735.6 1947.5,734.2 1947.5,732.9 1947.5,731.5 1947.5,730.2 1947.6,728.9 1947.6,727.6 1947.6,726.4 1947.6,725.1 1947.6,723.8 1947.7,722.6 1947.7,721.3 1947.7,720.1 1947.7,718.9 1947.7,717.7 1947.8,716.5 1947.8,715.3 1947.8,714.1 1947.8,712.9 1947.8,711.7 1947.9,710.5 1947.9,709.3 1947.9,708.1 1947.9,706.9 1947.9,705.7 1948.0,704.5 1948.0,703.3 1948.0,702.1 1948.0,700.9 1948.0,699.7 1948.1,698.5 1948.1,697.3 1948.1,696.1 1948.1,694.9 1948.1,693.7 1948.2,692.5 1948.2,691.3 1948.2,690.1 1948.2,688.9 1948.3,687.7 1948.3,686.5 1948.3,685.3 1948.3,684.1 1948.3,682.9 1948.4,681.7 1948.4,680.5 1948.4,679.3 1948.4,678.1 1948.5,676.9 1948.5,675.7 1948.5,674.5 1948.5,673.3 1948.5,672.1 1948.6,670.9 1948.6,669.7 1948.6,668.5 1948.6,667.3 1948.7,666.1 1948.7,664.9 1948.7,663.7 1948.7,662.5 1948.7,661.3 1948.8,660.1 1948.8,658.9 1948.8,657.7 1948.8,656.5 1948.8,655.3 1948.9,654.1 1948.9,652.9 1948.9,651.7 1948.9,650.5 1948.9,649.3 1949.0,648.0 1949.0,646.8 1949.0,645.6 1949.0,644.3 1949.0,643.1 1949.1,641.8 1949.1,640.5 1949.1,639.5 1949.1,639.3 1949.1,638.0 1949.1,636.6 1949.2,635.3 1949.2,633.9 1949.2,632.5 1949.2,631.1 1949.2,629.7 1949.3,628.3 1949.3,626.8 1949.3,625.3 1949.3,623.8 1949.3,622.3 1949.4,620.8 1949.4,619.3 1949.4,617.8 1949.4,616.2 1949.4,614.6 1949.5,613.1 1949.5,611.5 1949.5,609.9 1949.5,608.3 1949.5,606.7 1949.6,605.1 1949.6,603.5 1949.6,601.9 1949.6,600.3 1949.6,598.7 1949.7,597.1 1949.7,595.5 1949.7,593.9 1949.7,592.3 1949.7,590.7 1949.8,589.1 1949.8,587.5 1949.8,585.9 1949.8,584.3 1949.8,582.7 1949.9,581.1 1949.9,579.6 1949.9,578.0 1949.9,576.5 1949.9,575.0 1950.0,573.4 1950.0,571.9 1950.0,570.4 1950.0,569.0 1950.0,567.5 1950.1,566.0 1950.1,564.6 1950.1,563.2 1950.1,561.8 1950.1,560.4 1950.2,559.1 1950.2,557.7 1950.2,556.4 1950.2,555.1 1950.2,553.8 1950.3,552.6 1950.3,551.4 1950.3,550.2 1950.3,549.0 1950.3,547.8 1950.4,546.6 1950.4,545.4 1950.4,544.3 1950.4,543.1 1950.5,541.9 1950.5,540.7 1950.5,540.0 1950.5,539.6 1950.5,538.4 1950.6,537.2 1950.6,536.0 1950.6,534.8 1950.7,533.6 1950.7,532.4 1950.7,531.2 1950.7,530.0 1950.8,528.8 1950.8,527.6 1950.8,526.5 1950.9,525.3 1950.9,524.1 1950.9,522.9 1951.0,521.7 1951.0,520.5 1951.0,519.3 1951.1,518.1 1951.1,516.9 1951.1,515.7 1951.2,514.5 1951.2,513.4 1951.2,512.2 1951.3,511.0 1951.3,509.8 1951.4,508.6 1951.4,507.4 1951.4,506.2 1951.5,505.0 1951.5,503.8 1951.6,502.6 1951.6,501.4 1951.6,500.3 1951.7,499.1 1951.7,497.9 1951.8,496.7 1951.8,495.5 1951.9,494.3 1951.9,493.1 1952.0,491.9 1952.0,490.7 1952.1,489.5 1952.1,488.3 1952.2,487.1 1952.2,485.9 1952.3,484.7 1952.3,483.5 1952.3,482.3 1952.4,481.1 1952.4,481.1 1952.4,480.0 1952.5,478.8 1952.5,477.6 1952.6,476.4 1952.6,475.2 1952.7,474.0 1952.8,472.8 1952.8,471.6 1952.9,470.4 1952.9,469.2 1953.0,468.0 1953.0,466.8 1953.1,465.6 1953.1,464.4 1953.2,463.2 1953.2,462.1 1953.3,460.9 1953.4,459.7 1953.4,458.5 1953.5,457.3 1953.5,456.1 1953.6,454.9 1953.6,453.7 1953.7,452.5 1953.8,451.3 1953.8,450.1 1953.9,448.9 1954.0,447.7 1954.0,446.6 1954.1,445.4 1954.2,444.2 1954.2,443.0 1954.3,441.8 1954.4,440.6 1954.4,439.4 1954.5,438.2 1954.6,437.0 1954.6,435.8 1954.7,434.6 1954.8,433.4 1954.8,432.2 1954.9,431.4 1954.9,431.1 1955.0,429.9 1955.1,428.7 1955.1,427.5 1955.2,426.3 1955.3,425.1 1955.4,423.9 1955.4,422.7 1955.5,421.5 1955.6,420.3 1955.7,419.1 1955.8,417.9 1955.8,416.7 1955.9,415.5 1956.0,414.3 1956.1,413.1 1956.1,411.9 1956.2,410.8 1956.3,409.6 1956.4,408.4 1956.5,407.2 1956.6,406.0 1956.6,404.8 1956.7,403.6 1956.8,402.4 1956.9,401.2 1957.0,400.0 1957.1,398.9 1957.2,397.7 1957.3,396.5 1957.4,395.3 1957.5,394.1 1957.6,392.9 1957.7,391.7 1957.8,390.6 1957.9,389.4 1958.0,388.2 1958.1,387.0 1958.2,385.8 1958.3,384.7 1958.4,383.5 1958.5,382.3 1958.6,381.7 1958.7,381.1 1958.8,379.9 1958.9,378.8 1959.1,377.6 1959.2,376.4 1959.3,375.2 1959.5,374.0 1959.6,372.8 1959.7,371.7 1959.9,370.5 1960.0,369.3 1960.2,368.1 1960.3,366.9 1960.5,365.8 1960.7,364.6 1960.8,363.4 1961.0,362.2 1961.2,361.1 1961.3,359.9 1961.5,358.7 1961.7,357.5 1961.9,356.4 1962.1,355.2 1962.2,354.0 1962.4,352.9 1962.7,351.7 1962.9,350.5 1963.1,349.4 1963.3,348.2 1963.5,347.1 1963.6,346.8 1963.8,345.9 1964.0,344.7 1964.3,343.6 1964.5,342.4 1964.8,341.3 1965.1,340.1 1965.3,338.9 1965.6,337.8 1965.9,336.6 1966.2,335.5 1966.5,334.3 1966.8,333.2 1967.1,332.1 1967.4,330.9 1967.8,329.8 1968.2,328.7 1968.5,327.6 1968.9,326.5 1969.4,325.5 1969.8,324.5 1969.8,324.4 1970.4,323.4 1970.9,322.3 1971.5,321.3 1972.0,320.3 1972.6,319.2 1973.3,318.3 1973.9,317.3 1974.6,316.3 1975.3,315.4 1976.1,314.5 1976.9,313.6 1977.7,312.8 1978.5,312.0 1978.5,312.0 1979.4,311.2 1980.3,310.4 1981.2,309.6 1982.1,308.9 1983.1,308.1 1984.0,307.4 1985.0,306.7 1986.0,306.1 1987.0,305.4 1988.0,304.8 1989.1,304.2 1990.1,303.7 1991.2,303.1 1992.3,302.6 1993.3,302.1 1993.4,302.1 1994.4,301.7 1995.6,301.2 1996.7,300.8 1997.8,300.4 1998.9,300.0 2000.1,299.6 2001.2,299.2 2002.3,298.9 2003.5,298.5 2004.6,298.2 2005.8,297.9 2007.0,297.6 2008.1,297.2 2009.3,296.9 2010.4,296.6 2011.6,296.3 2012.8,296.0 2013.3,295.9 2013.9,295.7 2015.1,295.4 2016.2,295.2 2017.4,294.9 2018.6,294.6 2019.7,294.3 2020.9,294.1 2022.1,293.8 2023.3,293.5 2024.4,293.3 2025.6,293.0 2026.8,292.8 2028.0,292.6 2029.1,292.3 2030.3,292.1 2031.5,291.8 2032.7,291.6 2033.8,291.4 2035.0,291.1 2036.2,290.9 2037.4,290.6 2038.5,290.4 2039.7,290.2 2040.9,289.9 2042.1,289.7 2043.2,289.4 2044.4,289.2 2045.6,288.9 2045.6,288.9 2046.8,288.6 2047.4,288.5" fill="none" stroke="#555555" stroke-width="7.4" stroke-linejoin="round" stroke-linecap="butt"/>
<g stroke="#555555" stroke-width="3.5" fill="none"><rect x="1508.8000000000002" y="750.1999999999999" width="21.2" height="21.2"/><line x1="1508.8000000000002" y1="750.1999999999999" x2="1530.0" y2="771.4"/><line x1="1508.8000000000002" y1="771.4" x2="1530.0" y2="750.1999999999999"/></g>
<g stroke="#555555" stroke-width="3.5" fill="none"><rect x="1577.4" y="672.4" width="21.2" height="21.2"/><line x1="1577.4" y1="672.4" x2="1598.6" y2="693.6"/><line x1="1577.4" y1="693.6" x2="1598.6" y2="672.4"/></g>
<g stroke="#555555" stroke-width="3.5" fill="none"><rect x="1934.0" y="954.4" width="21.2" height="21.2"/><line x1="1934.0" y1="954.4" x2="1955.1999999999998" y2="975.6"/><line x1="1934.0" y1="975.6" x2="1955.1999999999998" y2="954.4"/></g>
<rect x="1431.7" y="792.5" width="176.3" height="51.6" fill="none" stroke="#000" stroke-width="1.25"/>
<text transform="translate(1435.16,830.10) scale(0.9362,1.0000)" font-family='"Liberation Sans", "DejaVu Sans", sans-serif' font-size="39.54" font-weight="normal" fill="#000">-13.24619</text>
<rect x="1626.3" y="647.4" width="195.8" height="57.8" fill="none" stroke="#000" stroke-width="1.25"/>
<text transform="translate(1631.59,690.10) scale(0.9493,1.0000)" font-family='"Liberation Sans", "DejaVu Sans", sans-serif' font-size="43.02" font-weight="normal" fill="#000">-11.27569</text>
<rect x="1846.3" y="971" width="195.6" height="54.6" fill="none" stroke="#000" stroke-width="1.25"/>
<text transform="translate(1850.46,1012.70) scale(0.9602,1.0000)" font-family='"Liberation Sans", "DejaVu Sans", sans-serif' font-size="43.02" font-weight="normal" fill="#000">-18.43295</text>
<rect x="1174.8" y="860.9" width="424.7" height="135.1" fill="none" stroke="#000" stroke-width="1.25"/>
<line x1="1183.2" y1="896.5" x2="1297.6" y2="896.5" stroke="#555555" stroke-width="7" stroke-linecap="round"/>
<line x1="1183.2" y1="959.2" x2="1297.6" y2="959.2" stroke="#F03E3E" stroke-width="7" stroke-linecap="round" stroke-dasharray="21.6,17.5,0.01,17.5"/>
<text transform="translate(1309.73,913.90) scale(0.9858,1.0000)" font-family='"Liberation Sans", "DejaVu Sans", sans-serif' font-size="52.76" font-weight="normal" fill="#000">Return Loss</text>
<text transform="translate(1311.0,977.1) scale(0.986,1)" font-family='"Liberation Sans", "DejaVu Sans", sans-serif' font-size="52.76" font-weight="normal" fill="#000" text-anchor="start">Gain</text>
<polyline points="1230.1,679.3 1230.8,680.3 1231.5,681.2 1232.2,682.2 1232.9,683.2 1233.7,684.1 1234.4,685.1 1235.1,686.1 1235.8,687.0 1236.5,688.0 1236.5,688.0 1237.2,688.9 1237.9,689.9 1238.7,690.8 1239.4,691.8 1240.1,692.7 1240.9,693.7 1241.6,694.7 1242.3,695.7 1242.9,696.7 1243.0,696.8 1243.6,697.8 1244.2,698.8 1244.8,699.9 1245.4,700.9 1246.0,702.0 1246.5,703.1 1247.1,704.2 1247.5,705.0 1247.6,705.2 1248.2,706.3 1248.7,707.4 1249.2,708.5 1249.7,709.6 1250.2,710.7 1250.7,711.8 1251.2,712.9 1251.4,713.3 1251.7,714.0 1252.2,715.2 1252.6,716.3 1253.0,717.4 1253.4,718.6 1253.9,719.7 1254.3,720.8 1254.7,722.0 1255.1,723.1 1255.5,724.2 1255.9,725.3 1256.3,726.4 1256.8,727.5 1257.2,728.5 1257.8,729.6 1258.1,730.2 1258.3,730.6 1258.9,731.6 1259.5,732.6 1260.2,733.6 1260.8,734.6 1261.5,735.5 1262.2,736.5 1262.9,737.4 1263.7,738.3 1264.5,739.2 1265.3,740.0 1266.1,740.8 1266.8,741.4 1267.0,741.6 1268.0,742.3 1268.9,743.0 1269.9,743.7 1270.9,744.4 1271.9,745.0 1273.0,745.5 1274.1,746.0 1275.2,746.3 1275.5,746.4 1276.3,746.6 1277.5,746.8 1278.7,747.1 1279.9,747.3 1281.1,747.4 1282.2,747.5 1283.0,747.5 1283.4,747.5 1284.6,747.4 1285.8,747.2 1287.0,746.9 1288.2,746.6 1289.3,746.3 1290.5,745.9 1291.2,745.7 1291.6,745.6 1292.8,745.2 1293.9,744.7 1295.0,744.2 1296.1,743.7 1297.2,743.2 1298.2,742.6 1299.3,742.0 1300.3,741.5 1301.4,740.9 1302.5,740.3 1303.5,739.8 1304.6,739.3 1305.3,739.0 1305.7,738.8 1306.8,738.4 1307.9,737.9 1309.0,737.5 1310.2,737.1 1311.3,736.6 1312.4,736.2 1313.5,735.8 1314.7,735.4 1315.8,735.0 1316.9,734.6 1318.0,734.2 1319.2,733.8 1320.3,733.4 1321.4,733.0 1322.6,732.6 1323.7,732.2 1324.8,731.8 1326.0,731.4 1327.1,730.9 1328.2,730.5 1329.0,730.2 1329.3,730.1 1330.4,729.6 1331.5,729.2 1332.7,728.7 1333.8,728.2 1334.9,727.7 1336.0,727.3 1337.1,726.8 1338.2,726.3 1339.3,725.9 1340.4,725.4 1341.5,724.9 1342.6,724.5 1343.7,724.1 1343.9,724.0 1344.8,723.6 1346.0,723.2 1347.1,722.8 1348.2,722.4 1349.3,721.9 1350.4,721.5 1351.6,721.1 1352.7,720.7 1353.8,720.3 1355.0,720.0 1356.1,719.6 1357.3,719.3 1358.4,719.0 1359.6,718.7 1360.0,718.6 1360.8,718.4 1361.9,718.2 1363.1,717.9 1364.3,717.7 1365.4,717.4 1366.6,717.2 1367.8,717.0 1369.0,716.8 1370.2,716.7 1371.4,716.6 1372.5,716.6 1372.6,716.6 1373.8,716.6 1375.0,716.6 1376.2,716.7 1377.4,716.7 1378.6,716.8 1379.8,716.8 1381.0,716.9 1382.2,717.0 1383.4,717.1 1383.7,717.1 1384.6,717.2 1385.8,717.4 1386.9,717.6 1388.1,717.9 1389.3,718.3 1390.4,718.6 1391.5,719.1 1392.7,719.5 1393.8,720.0 1394.9,720.5 1396.0,721.0 1397.0,721.5 1398.1,722.0 1399.2,722.5 1399.8,722.8 1400.3,723.0 1401.4,723.6 1402.4,724.2 1403.4,724.8 1404.5,725.5 1405.4,726.2 1406.4,726.9 1407.4,727.6 1408.4,728.4 1409.3,729.1 1410.2,729.8 1411.2,730.6 1412.1,731.4 1412.3,731.5 1413.1,732.1 1414.0,733.0 1414.8,733.8 1415.7,734.7 1416.5,735.6 1417.3,736.5 1418.1,737.4 1418.9,738.3 1419.7,739.2 1420.4,740.1 1421.2,741.0 1422.0,741.9 1422.8,742.8 1423.6,743.7 1424.4,744.6 1425.2,745.5 1426.0,746.3 1426.9,747.1 1427.8,747.9 1428.7,748.7 1429.6,749.3 1430.6,750.0 1430.9,750.1 1431.7,750.5 1432.7,751.1 1433.8,751.6 1434.9,752.2 1435.9,752.7 1437.0,753.2 1438.1,753.6 1439.2,754.1 1440.4,754.4 1441.5,754.7 1442.7,755.0 1443.9,755.1 1444.6,755.1 1445.1,755.1 1446.3,754.8 1447.4,754.2 1448.4,753.5 1449.3,752.6 1450.2,751.8 1451.1,750.9 1451.9,750.0 1452.6,749.0 1453.4,748.1 1454.2,747.2 1454.9,746.3 1455.7,745.3 1455.8,745.2 1456.5,744.4 1457.2,743.4 1457.9,742.4 1458.6,741.4 1459.3,740.4 1459.9,739.4 1460.6,738.4 1461.2,737.3 1461.8,736.2 1462.4,735.2 1462.9,734.1 1463.5,733.0 1464.0,731.9 1464.6,730.9 1465.1,729.8 1465.6,728.7 1466.1,727.6 1466.6,726.5 1467.1,725.4 1467.6,724.3 1468.1,723.1 1468.2,722.8 1468.5,722.0 1469.0,720.8 1469.4,719.7 1469.7,718.5 1470.1,717.3 1470.5,716.2 1470.8,715.0 1471.2,713.9 1471.5,712.7 1471.8,711.6 1472.2,710.4 1472.5,709.3 1472.9,708.1 1473.2,707.1 1473.2,707.0 1473.6,705.9 1474.0,704.7 1474.3,703.6 1474.7,702.4 1475.0,701.3 1475.4,700.1 1475.8,699.0 1476.1,697.9 1476.5,696.7 1476.9,695.6 1477.2,694.5 1477.6,693.3 1478.0,692.2 1478.2,691.7 1478.4,691.1 1478.8,690.0 1479.2,688.9 1479.7,687.7 1480.1,686.6 1480.5,685.5 1481.0,684.4 1481.4,683.3 1481.8,682.2 1482.3,681.1 1482.8,680.0 1483.2,678.9 1483.7,677.8 1484.1,676.7 1484.6,675.6 1485.1,674.4 1485.5,673.3 1486.0,672.2 1486.4,671.1 1486.9,670.0 1487.3,668.9 1487.7,667.7 1488.1,666.8 1488.2,666.6 1488.6,665.5 1489.0,664.3 1489.4,663.2 1489.8,662.1 1490.3,660.9 1490.7,659.8 1491.1,658.7 1491.5,657.6 1491.9,656.4 1492.3,655.3 1492.7,654.2 1493.1,653.2 1493.1,653.1 1493.6,652.0 1494.0,650.8 1494.4,649.7 1494.9,648.6 1495.3,647.5 1495.7,646.4 1496.1,645.3 1496.6,644.1 1497.0,643.0 1497.5,642.0 1498.0,640.9 1498.5,639.8 1499.0,638.8 1499.3,638.2 1499.5,637.8 1500.1,636.7 1500.7,635.7 1501.3,634.6 1501.9,633.6 1502.5,632.6 1503.1,631.6 1503.7,630.5 1504.4,629.5 1505.0,628.5 1505.7,627.5 1506.3,626.6 1507.0,625.6 1507.7,624.6 1508.4,623.7 1509.2,622.8 1509.9,621.9 1510.8,621.0 1511.6,620.2 1512.5,619.5 1513.4,618.8 1514.2,618.3 1514.4,618.2 1515.5,617.6 1516.5,617.0 1517.6,616.5 1518.6,616.0 1519.7,615.5 1520.8,615.0 1521.9,614.6 1523.1,614.2 1524.2,613.9 1525.4,613.6 1526.6,613.5 1527.8,613.4 1527.9,613.4 1529.0,613.6 1530.1,614.2 1531.0,615.1 1531.9,616.0 1532.7,616.9 1533.4,617.9 1534.1,618.9 1534.8,619.9 1535.5,620.9 1536.1,621.9 1536.8,622.9 1537.4,623.9 1537.9,624.6 1538.1,624.9 1538.8,625.9 1539.5,626.9 1540.2,627.9 1540.8,628.9 1541.5,629.9 1542.1,631.0 1542.7,632.0 1543.3,633.1 1543.9,634.2 1544.5,635.3 1545.0,636.4 1545.5,637.5 1546.0,638.6 1546.5,639.7 1546.9,640.9 1547.3,642.0 1547.8,643.2 1548.2,644.3 1548.5,645.5 1548.9,646.6 1549.0,646.9 1549.3,647.9 1549.6,649.2 1549.8,650.4 1550.0,651.6 1550.3,652.8 1550.5,654.0 1550.7,655.2 1550.9,656.4 1551.0,657.6 1551.2,658.8 1551.4,660.0 1551.6,661.1 1551.8,662.3 1552.0,663.1 1552.1,663.4 1552.3,664.6 1552.5,665.7 1552.8,666.9 1553.0,668.1 1553.3,669.2 1553.5,670.4 1553.8,671.6 1554.0,672.8 1554.3,674.0 1554.5,675.1 1554.8,676.3 1555.0,677.5 1555.2,678.7 1555.3,679.3 1555.4,679.9 1555.6,681.2 1555.8,682.4 1556.0,683.6 1556.2,684.8 1556.4,686.0 1556.5,687.2 1556.7,688.4 1556.9,689.6 1557.1,690.7 1557.2,691.9 1557.4,693.1 1557.6,694.3 1557.7,695.5 1557.9,696.7 1558.1,697.9 1558.2,699.0 1558.4,700.2 1558.6,701.4 1558.8,702.6 1558.9,703.8 1559.0,704.1 1559.1,704.9 1559.3,706.1 1559.5,707.3 1559.7,708.4 1559.9,709.6 1560.1,710.8 1560.3,712.0 1560.5,713.2 1560.7,714.4 1560.9,715.5 1561.1,716.7 1561.3,717.9 1561.5,719.1 1561.5,719.1 1561.7,720.3 1561.9,721.5 1562.1,722.7 1562.2,723.9 1562.4,725.1 1562.6,726.3 1562.8,727.5 1563.0,728.7 1563.1,729.9 1563.3,731.1 1563.5,732.3 1563.6,733.5 1563.8,734.7 1563.9,735.9 1564.0,736.5 1564.1,737.1 1564.2,738.3 1564.4,739.5 1564.5,740.8 1564.6,742.0 1564.7,743.2 1564.9,744.4 1565.0,745.6 1565.1,746.8 1565.2,748.0 1565.3,749.2 1565.4,750.4 1565.6,751.6 1565.7,752.8 1565.8,754.0 1565.9,755.1 1566.0,756.3 1566.1,757.5 1566.2,758.7 1566.4,759.9 1566.5,761.1 1566.5,761.3 1566.6,762.3 1566.7,763.5 1566.8,764.7 1567.0,765.9 1567.1,767.1 1567.2,768.2 1567.3,769.4 1567.5,770.6 1567.6,771.8 1567.7,773.0 1567.8,774.2 1568.0,775.4 1568.1,776.5 1568.2,777.5 1568.2,777.7 1568.4,778.9 1568.5,780.1 1568.6,781.3 1568.8,782.5 1568.9,783.7 1569.1,784.8 1569.2,786.0 1569.3,787.2 1569.5,788.4 1569.6,789.6 1569.8,790.7 1570.0,791.9 1570.1,793.1 1570.2,793.7 1570.3,794.3 1570.4,795.5 1570.6,796.7 1570.8,797.9 1570.9,799.1 1571.1,800.3 1571.2,801.5 1571.4,802.7 1571.5,803.9 1571.6,805.0 1571.8,806.2 1572.0,807.4 1572.1,808.6 1572.3,809.7 1572.5,810.9 1572.6,812.0 1572.8,813.1 1573.1,814.2 1573.4,815.2 1573.8,815.9 1573.9,816.0 1574.7,815.7 1575.6,814.5 1576.2,813.4 1576.7,812.2 1577.2,811.0 1577.6,809.9 1578.0,808.7 1578.4,807.6 1578.8,806.4 1579.2,805.3 1579.5,804.1 1579.9,803.0 1580.1,802.4 1580.3,801.8 1580.6,800.7 1581.0,799.5 1581.3,798.3 1581.6,797.0 1581.9,795.8 1582.1,794.6 1582.3,793.4 1582.6,792.2 1582.8,790.9 1582.9,789.7 1583.1,788.7 1583.1,788.5 1583.3,787.1 1583.4,785.9 1583.5,784.6 1583.6,783.4 1583.7,782.1 1583.8,780.9 1583.9,779.7 1584.0,778.5 1584.1,777.3 1584.1,776.1 1584.2,774.9 1584.3,773.7 1584.4,772.5 1584.5,771.3 1584.6,770.1 1584.6,769.0 1584.7,767.8 1584.8,766.6 1584.9,765.5 1585.0,764.3 1585.1,763.8 1585.2,763.2 1585.3,762.1 1585.4,760.9 1585.6,759.8 1585.8,758.6 1585.9,757.4 1586.1,756.3 1586.3,755.1 1586.5,753.9 1586.7,752.7 1586.9,751.5 1587.0,750.3 1587.2,749.1 1587.4,747.9 1587.6,746.7 1587.6,746.4 1587.7,745.5 1587.9,744.3 1588.0,743.0 1588.1,741.8 1588.3,740.6 1588.4,739.4 1588.5,738.2 1588.7,737.0 1588.8,735.8 1588.9,734.6 1589.0,733.4 1589.2,732.3 1589.3,731.1 1589.4,729.9 1589.6,728.7 1589.7,727.5 1589.8,726.3 1590.0,725.2 1590.1,724.0 1590.1,724.0 1590.2,722.8 1590.4,721.6 1590.5,720.4 1590.7,719.2 1590.8,718.0 1591.0,716.8 1591.1,715.6 1591.3,714.5 1591.4,713.3 1591.6,712.1 1591.7,710.9 1591.9,709.7 1592.0,708.6 1592.2,707.4 1592.3,706.2 1592.5,705.1 1592.7,703.9 1592.9,702.8 1593.1,701.7 1593.1,701.7 1593.3,700.5 1593.6,699.4 1593.8,698.2 1594.1,697.1 1594.4,696.0 1594.7,694.8 1595.0,693.7 1595.4,692.6 1595.7,691.4 1596.0,690.2 1596.3,689.2 1596.3,689.1 1596.7,687.9 1597.0,686.7 1597.3,685.5 1597.5,684.4 1597.8,683.2 1598.1,682.0 1598.4,680.9 1598.7,679.7 1599.0,678.6 1599.3,677.5 1599.7,676.3 1600.0,675.2 1600.4,674.1 1600.8,673.0 1601.2,672.0 1601.3,671.8 1601.7,671.0 1602.3,670.0 1602.8,668.9 1603.4,667.9 1604.1,667.0 1604.8,666.0 1605.5,665.1 1606.2,664.3 1607.1,663.5 1607.5,663.1 1608.0,662.7 1608.9,662.0 1609.9,661.3 1610.9,661.0 1611.0,661.0 1612.1,661.2 1613.2,661.7 1613.7,661.9 1614.3,662.2 1615.4,662.8 1616.4,663.6 1617.3,664.3 1618.3,665.2 1619.1,666.0 1619.9,666.8 1620.0,666.9 1620.8,667.8 1621.6,668.8 1622.3,669.8 1622.9,670.8 1623.6,671.9 1624.2,672.9 1624.8,674.0 1625.4,675.0 1626.0,676.1 1626.6,677.1 1627.2,678.2 1627.8,679.2 1628.1,679.8 1628.4,680.3 1628.9,681.3 1629.5,682.4 1630.1,683.5 1630.6,684.5 1631.2,685.6 1631.7,686.7 1632.2,687.8 1632.8,688.8 1633.3,689.9 1633.8,691.0 1634.4,692.1 1634.8,692.9 1634.9,693.1 1635.5,694.2 1636.0,695.2 1636.6,696.2 1637.2,697.3 1637.8,698.3 1638.4,699.3 1639.0,700.4 1639.6,701.4 1640.2,702.5 1640.8,703.5 1641.4,704.6 1642.0,705.6 1642.6,706.7 1643.1,707.8 1643.7,708.9 1644.2,710.0 1644.7,711.1 1645.2,712.2 1645.7,713.3 1646.0,714.1 1646.1,714.4 1646.6,715.6 1647.0,716.8 1647.4,717.9 1647.8,719.1 1648.1,720.2 1648.5,721.4 1648.8,722.6 1649.2,723.7 1649.5,724.9 1649.9,726.0 1650.2,727.2 1650.5,728.3 1650.9,729.5 1651.2,730.6 1651.5,731.5 1651.6,731.7 1651.9,732.9 1652.3,734.1 1652.6,735.2 1653.0,736.4 1653.3,737.5 1653.6,738.7 1654.0,739.8 1654.3,741.0 1654.7,742.1 1655.0,743.2 1655.4,744.4 1655.7,745.5 1656.0,746.4 1656.1,746.7 1656.5,747.8 1656.8,748.9 1657.2,750.0 1657.6,751.2 1658.0,752.3 1658.4,753.4 1658.8,754.5 1659.2,755.7 1659.6,756.8 1660.0,757.9 1660.4,759.1 1660.8,760.2 1661.2,761.3 1661.7,762.4 1662.1,763.6 1662.5,764.7 1662.9,765.8 1663.3,767.0 1663.6,768.1 1664.0,769.3 1664.4,770.4 1664.7,771.3 1664.8,771.6 1665.2,772.7 1665.5,773.9 1665.9,775.0 1666.2,776.2 1666.6,777.3 1666.9,778.5 1667.3,779.6 1667.6,780.8 1668.0,782.0 1668.3,783.1 1668.6,784.3 1669.0,785.4 1669.2,786.2 1669.3,786.6 1669.6,787.7 1670.0,788.9 1670.3,790.0 1670.6,791.2 1671.0,792.3 1671.3,793.5 1671.6,794.7 1672.0,795.8 1672.3,797.0 1672.6,798.1 1672.9,799.3 1673.2,800.5 1673.4,801.1 1673.5,801.6 1673.8,802.8 1674.2,804.0 1674.5,805.1 1674.8,806.3 1675.1,807.5 1675.4,808.6 1675.6,809.8 1675.9,811.0 1676.2,812.1 1676.5,813.3 1676.8,814.5 1677.1,815.6 1677.4,816.8 1677.7,818.0 1678.0,819.1 1678.2,820.3 1678.5,821.5 1678.8,822.6 1679.1,823.8 1679.4,825.0 1679.6,826.0 1679.6,826.1 1679.9,827.3 1680.2,828.5 1680.5,829.7 1680.7,830.8 1681.0,832.0 1681.3,833.2 1681.5,834.4 1681.8,835.5 1682.0,836.7 1682.3,837.9 1682.6,839.0 1682.8,840.2 1683.1,841.4 1683.3,842.2 1683.4,842.5 1683.6,843.7 1683.9,844.9 1684.2,846.1 1684.4,847.2 1684.7,848.4 1685.0,849.6 1685.2,850.7 1685.5,851.9 1685.8,853.1 1686.0,854.2 1686.3,855.4 1686.6,856.5 1686.9,857.6 1687.1,858.3 1687.2,858.8 1687.6,859.9 1687.9,861.0 1688.3,862.1 1688.7,863.2 1689.1,864.4 1689.5,865.5 1689.9,866.7 1690.0,867.1 1690.2,867.9 1690.6,869.1 1690.9,870.2 1691.2,871.4 1691.5,872.6 1691.8,873.7 1692.1,874.9 1692.4,876.1 1692.7,877.2 1693.0,878.4 1693.3,879.6 1693.6,880.8 1693.9,881.9 1694.1,883.1 1694.4,884.3 1694.7,885.4 1695.0,886.6 1695.3,887.8 1695.5,888.9 1695.8,890.1 1696.1,891.3 1696.4,892.4 1696.7,893.6 1696.9,894.8 1697.2,895.9 1697.5,897.0 1697.5,897.1 1697.8,898.2 1698.1,899.4 1698.4,900.6 1698.7,901.7 1699.0,902.9 1699.2,904.1 1699.5,905.2 1699.8,906.4 1700.1,907.6 1700.4,908.7 1700.7,909.9 1701.0,911.1 1701.2,912.2 1701.5,913.4 1701.8,914.6 1702.1,915.7 1702.4,916.9 1702.4,916.9 1702.7,918.0 1703.0,919.2 1703.3,920.4 1703.6,921.5 1703.9,922.7 1704.1,923.9 1704.4,925.0 1704.7,926.2 1705.0,927.3 1705.3,928.5 1705.6,929.7 1705.9,930.8 1706.2,932.0 1706.5,933.2 1706.8,934.3 1707.1,935.5 1707.4,936.7 1707.4,936.8 1707.7,937.8 1707.9,939.0 1708.2,940.2 1708.5,941.3 1708.8,942.5 1709.1,943.7 1709.4,944.8 1709.6,946.0 1709.9,947.2 1710.2,948.3 1710.5,949.5 1710.8,950.6 1711.1,951.7 1711.1,951.8 1711.4,952.9 1711.7,954.1 1712.1,955.2 1712.4,956.4 1712.7,957.5 1713.1,958.7 1713.4,959.8 1713.7,961.0 1714.1,962.1 1714.4,963.3 1714.7,964.4 1715.1,965.6 1715.4,966.7 1715.8,967.9 1716.1,969.0 1716.1,969.1 1716.4,970.2 1716.7,971.4 1717.0,972.6 1717.3,973.7 1717.6,974.9 1717.9,976.1 1718.2,977.2 1718.5,978.4 1718.8,979.5 1719.1,980.7 1719.4,981.9 1719.7,983.0 1720.0,984.2 1720.3,985.3 1720.7,986.4 1721.0,987.6 1721.3,988.7 1721.7,989.8 1722.1,990.9 1722.3,991.5 1722.5,992.0 1722.9,993.1 1723.3,994.2 1723.8,995.3 1724.2,996.4 1724.7,997.5 1725.2,998.6 1725.7,999.7 1726.2,1000.7 1726.7,1001.8 1727.2,1002.8 1727.8,1003.8 1728.4,1004.8 1729.1,1005.7 1729.3,1005.9 1729.9,1006.6 1730.7,1007.4 1731.5,1008.3 1732.4,1009.1 1733.3,1009.8 1734.2,1010.5 1735.2,1011.1 1736.0,1011.4 1736.3,1011.5 1737.4,1011.9 1738.6,1012.2 1739.5,1012.3 1739.7,1012.3 1740.9,1012.2 1742.1,1011.9 1743.3,1011.5 1743.5,1011.4 1744.4,1010.9 1745.4,1010.1 1746.3,1009.2 1747.1,1008.2 1747.8,1007.2 1748.5,1006.3 1749.2,1005.3 1749.8,1004.3 1750.5,1003.3 1750.9,1002.7 1751.2,1002.3 1751.9,1001.3 1752.5,1000.2 1753.1,999.2 1753.7,998.1 1754.3,997.1 1754.9,996.0 1755.5,994.9 1756.0,993.8 1756.5,992.7 1757.0,991.6 1757.1,991.5 1757.5,990.5 1758.0,989.3 1758.5,988.2 1758.9,987.1 1759.3,985.9 1759.7,984.8 1760.1,983.6 1760.5,982.5 1760.9,981.4 1761.3,980.2 1761.7,979.1 1762.1,978.0 1762.5,976.9 1762.6,976.6 1762.9,975.8 1763.4,974.7 1763.8,973.6 1764.3,972.5 1764.7,971.4 1765.2,970.3 1765.7,969.2 1766.2,968.1 1766.6,967.0 1767.1,965.9 1767.5,964.7 1768.0,963.6 1768.4,962.5 1768.9,961.3 1769.3,960.2 1769.6,959.2 1769.7,959.0 1770.0,957.8 1770.4,956.7 1770.7,955.5 1771.1,954.3 1771.4,953.2 1771.7,952.0 1772.0,950.8 1772.3,949.7 1772.6,948.5 1772.9,947.3 1773.2,946.2 1773.5,945.0 1773.8,943.8 1774.1,942.7 1774.4,941.5 1774.8,940.4 1775.1,939.2 1775.4,938.1 1775.7,937.0 1775.8,936.8 1776.1,935.9 1776.5,934.7 1776.8,933.6 1777.2,932.5 1777.6,931.4 1778.0,930.2 1778.4,929.1 1778.8,928.0 1779.2,926.8 1779.6,925.7 1780.0,924.5 1780.3,923.4 1780.7,922.2 1780.8,921.9 1781.1,921.0 1781.4,919.9 1781.7,918.7 1782.0,917.5 1782.4,916.4 1782.7,915.2 1783.0,914.0 1783.3,912.9 1783.6,911.7 1783.9,910.6 1784.2,909.4 1784.5,908.3 1784.8,907.1 1785.2,906.0 1785.6,904.9 1785.7,904.5 1785.9,903.8 1786.3,902.7 1786.8,901.6 1787.2,900.5 1787.6,899.4 1788.1,898.3 1788.6,897.2 1789.0,896.1 1789.5,895.1 1790.0,894.0 1790.5,892.9 1791.1,891.8 1791.6,890.8 1792.1,889.7 1792.6,888.6 1793.2,887.5 1793.7,886.5 1794.2,885.4 1794.8,884.3 1795.3,883.2 1795.8,882.1 1796.3,881.0 1796.8,879.9 1796.9,879.6 1797.3,878.8 1797.7,877.7 1798.2,876.6 1798.7,875.5 1799.2,874.4 1799.6,873.3 1800.1,872.1 1800.6,871.0 1801.0,869.9 1801.5,868.8 1801.9,867.6 1801.9,867.6 1802.3,866.5 1802.7,865.3 1803.1,864.1 1803.4,863.0 1803.8,861.8 1804.1,860.7 1804.5,859.5 1804.8,858.4 1805.2,857.2 1805.5,856.1 1805.9,855.0 1806.3,853.9 1806.7,852.8 1806.9,852.2 1807.1,851.7 1807.6,850.6 1808.0,849.5 1808.5,848.5 1809.0,847.4 1809.6,846.3 1810.1,845.3 1810.7,844.2 1811.2,843.2 1811.8,842.2 1812.4,841.1 1813.0,840.1 1813.6,839.1 1814.2,838.0 1814.8,837.0 1815.4,835.9 1815.9,834.8 1816.5,833.7 1817.0,832.6 1817.6,831.5 1818.1,830.4 1818.5,829.3 1819.0,828.2 1819.3,827.4 1819.4,827.0 1819.9,825.9 1820.3,824.7 1820.7,823.6 1821.1,822.4 1821.5,821.2 1821.8,820.1 1822.2,818.9 1822.5,817.7 1822.8,816.5 1823.0,815.4 1823.0,815.3 1823.3,814.0 1823.5,812.7 1823.7,811.5 1823.9,810.2 1824.0,809.0 1824.2,807.8 1824.3,806.6 1824.5,805.4 1824.7,804.3 1824.8,803.1 1825.0,801.9 1825.1,800.8 1825.3,799.6 1825.5,798.6 1825.5,798.5 1825.7,797.3 1826.0,796.2 1826.2,795.0 1826.4,793.9 1826.7,792.7 1826.9,791.5 1827.2,790.4 1827.4,789.2 1827.7,788.1 1828.0,786.9 1828.2,785.8 1828.5,784.6 1828.8,783.4 1829.1,782.3 1829.4,781.1 1829.7,779.9 1829.9,778.7 1830.2,777.6 1830.5,776.4 1830.5,776.3 1830.7,775.2 1831.0,774.0 1831.3,772.9 1831.5,771.7 1831.8,770.5 1832.1,769.4 1832.3,768.2 1832.6,767.0 1832.9,765.9 1833.1,764.7 1833.4,763.5 1833.7,762.4 1833.9,761.2 1834.2,760.1 1834.2,760.0 1834.5,758.9 1834.8,757.7 1835.0,756.5 1835.3,755.4 1835.6,754.2 1835.9,753.1 1836.2,751.9 1836.5,750.7 1836.8,749.5 1837.0,748.4 1837.3,747.2 1837.6,746.0 1837.8,744.8 1838.0,743.9 1838.1,743.6 1838.3,742.4 1838.5,741.2 1838.7,740.0 1838.9,738.8 1839.1,737.6 1839.3,736.4 1839.5,735.2 1839.7,734.0 1839.9,732.8 1840.1,731.6 1840.3,730.4 1840.4,729.2 1840.6,728.1 1840.8,726.9 1841.0,725.7 1841.2,724.5 1841.4,723.4 1841.6,722.2 1841.8,721.1 1842.0,719.9 1842.2,719.1 1842.3,718.8 1842.5,717.6 1842.8,716.5 1843.0,715.3 1843.3,714.2 1843.6,713.0 1843.9,711.9 1844.2,710.7 1844.5,709.6 1844.8,708.4 1845.1,707.2 1845.4,706.1 1845.7,704.9 1845.9,704.1 1846.0,703.7 1846.3,702.6 1846.6,701.4 1846.9,700.2 1847.2,699.1 1847.5,697.9 1847.8,696.7 1848.1,695.6 1848.4,694.4 1848.7,693.3 1849.0,692.1 1849.3,691.0 1849.6,689.8 1849.9,688.6 1850.2,687.5 1850.4,686.7 1850.5,686.3 1850.8,685.2 1851.1,684.0 1851.4,682.8 1851.7,681.6 1852.0,680.5 1852.3,679.3 1852.5,678.1 1852.8,677.0 1853.1,675.8 1853.4,674.7 1853.7,673.5 1854.0,672.4 1854.3,671.2 1854.6,670.1 1855.0,669.0 1855.4,668.0 1855.8,666.9 1856.3,666.0 1856.6,665.6 1857.0,665.2 1857.8,664.3 1858.6,663.5 1859.4,662.7 1860.3,661.9 1861.3,661.2 1862.2,660.6 1863.3,660.0 1864.4,659.6 1865.5,659.4 1866.1,659.4 1866.7,659.8 1867.5,661.1 1868.0,662.4 1868.4,663.6 1868.8,664.8 1869.1,666.0 1869.4,667.2 1869.7,668.4 1869.9,669.6 1870.2,670.8 1870.5,671.9 1870.7,673.1 1871.0,674.3 1871.2,675.5 1871.5,676.7 1871.5,676.8 1871.7,677.9 1871.9,679.2 1872.1,680.4 1872.3,681.6 1872.5,682.8 1872.6,684.1 1872.8,685.3 1873.0,686.5 1873.1,687.7 1873.2,688.9 1873.4,690.1 1873.5,691.3 1873.7,692.4 1873.8,693.6 1874.0,694.8 1874.1,696.0 1874.2,697.2 1874.4,698.4 1874.5,699.2 1874.5,699.6 1874.7,700.8 1874.8,702.0 1875.0,703.2 1875.1,704.4 1875.3,705.6 1875.4,706.8 1875.5,708.0 1875.7,709.1 1875.8,710.3 1876.0,711.5 1876.1,712.6 1876.3,713.8 1876.4,714.9 1876.5,715.3 1876.6,716.1 1876.8,717.3 1877.0,718.4 1877.2,719.6 1877.4,720.8 1877.6,722.0 1877.8,723.1 1878.0,724.3 1878.2,725.5 1878.4,726.6 1878.7,727.8 1878.9,728.9 1879.2,730.0 1879.5,731.0 1879.9,732.0 1880.3,732.7 1880.4,732.8 1881.3,733.5 1882.2,734.1 1883.3,734.6 1884.4,735.1 1885.5,735.4 1886.6,735.8 1887.8,736.1 1888.9,736.5 1889.0,736.5 1890.1,736.9 1891.2,737.4 1892.3,737.8 1893.4,738.3 1894.5,738.7 1895.6,739.1 1896.8,739.5 1897.9,739.8 1899.1,740.1 1900.3,740.2 1900.9,740.2 1901.5,739.8 1902.2,738.4 1902.7,737.1 1903.0,735.9 1903.4,734.7 1903.7,733.6 1904.0,732.4 1904.3,731.2 1904.6,730.0 1904.9,728.9 1905.2,727.8 1905.5,726.6 1905.8,725.5 1905.9,725.3 1906.2,724.4 1906.6,723.3 1906.9,722.1 1907.3,721.0 1907.6,719.8 1908.0,718.7 1908.3,717.5 1908.7,716.4 1909.0,715.2 1909.4,714.1 1909.8,713.0 1910.2,711.9 1910.6,710.8 1911.0,709.7 1911.3,709.1 1911.5,708.7 1912.0,707.6 1912.5,706.6 1913.1,705.5 1913.7,704.5 1914.2,703.5 1914.9,702.5 1915.5,701.5 1916.1,700.5 1916.8,699.5 1917.5,698.5 1918.2,697.6 1918.8,696.7 1918.9,696.6 1919.6,695.7 1920.4,694.8 1921.2,693.9 1922.0,693.1 1922.8,692.2 1923.6,691.2 1924.4,690.2 1925.0,689.2 1925.0,689.1 1925.6,687.9 1926.1,686.6 1926.5,685.4 1926.8,684.3 1927.2,683.1 1927.5,682.0 1927.8,680.8 1928.2,679.7 1928.5,678.6 1928.9,677.5 1929.3,676.5 1929.9,675.6 1930.0,675.5 1930.6,674.9 1931.5,674.1 1932.4,673.3 1933.3,672.6 1934.3,672.0 1935.4,671.4 1936.4,671.0 1937.6,670.7 1938.7,670.6 1938.8,670.6 1939.9,673.6 1940.2,674.9 1940.4,676.1 1940.6,677.3 1940.8,678.6 1941.0,679.8 1941.2,681.0 1941.3,682.2 1941.5,683.4 1941.7,684.5 1941.9,685.7 1942.0,686.9 1942.2,688.1 1942.4,689.2 1942.4,689.2 1942.6,690.5 1942.8,691.7 1942.9,692.9 1943.1,694.1 1943.3,695.3 1943.4,696.5 1943.6,697.7 1943.7,698.9 1943.8,700.1 1944.0,701.3 1944.1,702.5 1944.3,703.7 1944.4,704.9 1944.5,706.1 1944.7,707.3 1944.8,708.5 1944.9,709.1 1945.0,709.7 1945.1,710.9 1945.2,712.2 1945.3,713.4 1945.4,714.6 1945.5,715.8 1945.6,717.0 1945.7,718.2 1945.8,719.4 1945.9,720.6 1946.1,721.8 1946.2,723.0 1946.3,724.2 1946.4,725.3 1946.5,726.5 1946.6,727.6 1946.7,728.7 1946.9,729.8 1947.1,730.8 1947.4,731.5 1947.4,731.5 1948.4,726.1 1948.5,724.9 1948.7,723.7 1948.8,722.5 1948.9,721.3 1949.0,720.1 1949.1,718.9 1949.2,717.7 1949.4,716.5 1949.5,715.3 1949.6,714.2 1949.7,713.0 1949.9,711.9 1949.9,711.6 1950.0,710.7 1950.2,709.5 1950.3,708.3 1950.5,707.1 1950.6,706.0 1950.8,704.8 1951.0,703.6 1951.1,702.4 1951.3,701.2 1951.4,700.1 1951.6,698.9 1951.8,697.7 1952.0,696.6 1952.2,695.4 1952.4,694.3 1952.4,694.2 1952.6,693.1 1952.8,692.0 1953.1,690.8 1953.3,689.6 1953.5,688.5 1953.8,687.3 1954.0,686.1 1954.3,685.0 1954.5,683.8 1954.8,682.7 1955.1,681.5 1955.4,680.4 1955.7,679.3 1956.0,678.2 1956.4,677.2 1956.9,676.2 1957.4,675.5 1957.5,675.5 1958.3,674.7 1959.3,674.0 1960.3,673.5 1961.4,673.1 1962.3,673.0 1962.6,673.0 1963.7,673.9 1964.5,675.0 1965.1,676.2 1965.6,677.3 1966.1,678.5 1966.6,679.6 1967.0,680.8 1967.4,681.9 1967.8,683.1 1968.2,684.2 1968.5,685.3 1968.9,686.5 1969.3,687.6 1969.7,688.8 1969.8,689.2 1970.0,689.9 1970.4,691.2 1970.7,692.4 1971.0,693.6 1971.2,694.8 1971.5,696.0 1971.8,697.2 1972.0,698.3 1972.2,699.5 1972.5,700.7 1972.7,701.9 1973.0,703.0 1973.2,704.2 1973.4,705.4 1973.7,706.5 1973.9,707.7 1974.0,707.9 1974.2,708.8 1974.5,710.0 1974.8,711.2 1975.0,712.4 1975.3,713.5 1975.6,714.7 1975.8,715.9 1976.1,717.0 1976.4,718.2 1976.6,719.3 1976.9,720.5 1977.2,721.7 1977.5,722.8 1977.8,724.0 1978.1,725.1 1978.4,726.2 1978.5,726.5 1978.7,727.4 1979.1,728.6 1979.4,729.8 1979.6,730.9 1979.9,732.1 1980.2,733.2 1980.5,734.4 1980.9,735.4 1981.2,736.5 1981.7,737.3 1982.2,737.7 1982.4,737.7 1983.6,737.3 1984.6,736.6 1985.6,735.7 1986.5,734.9 1987.3,734.1 1988.2,733.4 1989.2,732.8 1989.7,732.7 1990.3,732.6 1991.5,732.4 1992.7,732.2 1993.9,732.0 1995.1,731.8 1996.3,731.7 1997.4,731.5 1998.6,731.4 1999.8,731.3 2001.0,731.2 2002.2,731.1 2003.4,731.1 2004.6,731.0 2005.8,731.0 2006.6,731.0 2007.0,731.0 2008.2,731.1 2009.4,731.3 2010.6,731.6 2011.7,732.0 2012.9,732.4 2014.0,732.8 2015.1,733.3 2016.2,733.8 2017.3,734.3 2018.4,734.8 2019.5,735.4 2020.5,735.9 2021.6,736.3 2022.0,736.5 2022.7,736.8 2023.8,737.3 2024.9,737.8 2026.0,738.2 2027.1,738.7 2028.2,739.3 2029.3,739.8 2030.4,740.3 2031.4,740.9 2032.5,741.5 2033.2,741.9 2033.5,742.1 2034.6,742.7 2035.6,743.4 2036.6,744.0 2037.6,744.7 2038.6,745.4 2039.5,746.2 2040.5,746.9 2041.4,747.6 2042.4,748.4 2043.3,749.2 2044.2,749.9 2044.4,750.1" fill="none" stroke="#F03E3E" stroke-width="7" stroke-linejoin="round" stroke-linecap="round" stroke-dasharray="21.9,17.7,0.01,17.7"/>
<line x1="1150.0" y1="237.25" x2="1150.0" y2="1027.0500000000002" stroke="#555555" stroke-width="2.3"/>
<line x1="1133.8" y1="238.4" x2="1150.0" y2="238.4" stroke="#555555" stroke-width="2.3"/>
<text transform="translate(1122.5,254.5) scale(0.985,1)" font-family='"Liberation Sans", "DejaVu Sans", sans-serif' font-size="52.6" font-weight="normal" fill="#555555" text-anchor="end">0</text>
<line x1="1141.8" y1="317.2" x2="1150.0" y2="317.2" stroke="#555555" stroke-width="2.3"/>
<line x1="1133.8" y1="395.9" x2="1150.0" y2="395.9" stroke="#555555" stroke-width="2.3"/>
<text transform="translate(1122.5,412.0) scale(0.985,1)" font-family='"Liberation Sans", "DejaVu Sans", sans-serif' font-size="52.6" font-weight="normal" fill="#555555" text-anchor="end">-4</text>
<line x1="1141.8" y1="474.7" x2="1150.0" y2="474.7" stroke="#555555" stroke-width="2.3"/>
<line x1="1133.8" y1="553.4" x2="1150.0" y2="553.4" stroke="#555555" stroke-width="2.3"/>
<text transform="translate(1122.5,569.5) scale(0.985,1)" font-family='"Liberation Sans", "DejaVu Sans", sans-serif' font-size="52.6" font-weight="normal" fill="#555555" text-anchor="end">-8</text>
<line x1="1141.8" y1="632.2" x2="1150.0" y2="632.2" stroke="#555555" stroke-width="2.3"/>
<line x1="1133.8" y1="710.9" x2="1150.0" y2="710.9" stroke="#555555" stroke-width="2.3"/>
<text transform="translate(1122.5,727.0) scale(0.985,1)" font-family='"Liberation Sans", "DejaVu Sans", sans-serif' font-size="52.6" font-weight="normal" fill="#555555" text-anchor="end">-12</text>
<line x1="1141.8" y1="789.7" x2="1150.0" y2="789.7" stroke="#555555" stroke-width="2.3"/>
<line x1="1133.8" y1="868.4" x2="1150.0" y2="868.4" stroke="#555555" stroke-width="2.3"/>
<text transform="translate(1122.5,884.5) scale(0.985,1)" font-family='"Liberation Sans", "DejaVu Sans", sans-serif' font-size="52.6" font-weight="normal" fill="#555555" text-anchor="end">-16</text>
<line x1="1141.8" y1="947.2" x2="1150.0" y2="947.2" stroke="#555555" stroke-width="2.3"/>
<line x1="1133.8" y1="1025.9" x2="1150.0" y2="1025.9" stroke="#555555" stroke-width="2.3"/>
<text transform="translate(1122.5,1042.0) scale(0.985,1)" font-family='"Liberation Sans", "DejaVu Sans", sans-serif' font-size="52.6" font-weight="normal" fill="#555555" text-anchor="end">-20</text>
<text stroke="#000" stroke-width="0.9" transform="translate(1125.2,651.4) scale(0.987,1)" font-family='"Liberation Sans", "DejaVu Sans", sans-serif' font-size="53.4" font-weight="normal" fill="#000" text-anchor="end">-10</text>
<line x1="1150.0" y1="238.4" x2="2125.9" y2="238.4" stroke="#000" stroke-width="2.3"/>
<line x1="1133.8" y1="1025.9" x2="2125.9" y2="1025.9" stroke="#000" stroke-width="2.3"/>
<line x1="1150.0" y1="238.4" x2="1150.0" y2="246.4" stroke="#000" stroke-width="2.3"/>
<line x1="1150.0" y1="1025.9" x2="1150.0" y2="1033.9" stroke="#000" stroke-width="2.3"/>
<line x1="1231.3" y1="238.4" x2="1231.3" y2="254.4" stroke="#000" stroke-width="2.3"/>
<line x1="1231.3" y1="1025.9" x2="1231.3" y2="1041.9" stroke="#000" stroke-width="2.3"/>
<text transform="translate(1229.8,1093.4) scale(0.985,1)" font-family='"Liberation Sans", "DejaVu Sans", sans-serif' font-size="52.6" font-weight="normal" fill="#000" text-anchor="middle">4</text>
<line x1="1312.7" y1="238.4" x2="1312.7" y2="246.4" stroke="#000" stroke-width="2.3"/>
<line x1="1312.7" y1="1025.9" x2="1312.7" y2="1033.9" stroke="#000" stroke-width="2.3"/>
<line x1="1394.0" y1="238.4" x2="1394.0" y2="254.4" stroke="#000" stroke-width="2.3"/>
<line x1="1394.0" y1="1025.9" x2="1394.0" y2="1041.9" stroke="#000" stroke-width="2.3"/>
<text transform="translate(1392.5,1093.4) scale(0.985,1)" font-family='"Liberation Sans", "DejaVu Sans", sans-serif' font-size="52.6" font-weight="normal" fill="#000" text-anchor="middle">5</text>
<line x1="1475.3" y1="238.4" x2="1475.3" y2="246.4" stroke="#000" stroke-width="2.3"/>
<line x1="1475.3" y1="1025.9" x2="1475.3" y2="1033.9" stroke="#000" stroke-width="2.3"/>
<line x1="1556.6" y1="238.4" x2="1556.6" y2="254.4" stroke="#000" stroke-width="2.3"/>
<line x1="1556.6" y1="1025.9" x2="1556.6" y2="1041.9" stroke="#000" stroke-width="2.3"/>
<text transform="translate(1555.1,1093.4) scale(0.985,1)" font-family='"Liberation Sans", "DejaVu Sans", sans-serif' font-size="52.6" font-weight="normal" fill="#000" text-anchor="middle">6</text>
<line x1="1638.0" y1="238.4" x2="1638.0" y2="246.4" stroke="#000" stroke-width="2.3"/>
<line x1="1638.0" y1="1025.9" x2="1638.0" y2="1033.9" stroke="#000" stroke-width="2.3"/>
<line x1="1719.3" y1="238.4" x2="1719.3" y2="254.4" stroke="#000" stroke-width="2.3"/>
<line x1="1719.3" y1="1025.9" x2="1719.3" y2="1041.9" stroke="#000" stroke-width="2.3"/>
<text transform="translate(1717.8,1093.4) scale(0.985,1)" font-family='"Liberation Sans", "DejaVu Sans", sans-serif' font-size="52.6" font-weight="normal" fill="#000" text-anchor="middle">7</text>
<line x1="1800.6" y1="238.4" x2="1800.6" y2="246.4" stroke="#000" stroke-width="2.3"/>
<line x1="1800.6" y1="1025.9" x2="1800.6" y2="1033.9" stroke="#000" stroke-width="2.3"/>
<line x1="1881.9" y1="238.4" x2="1881.9" y2="254.4" stroke="#000" stroke-width="2.3"/>
<line x1="1881.9" y1="1025.9" x2="1881.9" y2="1041.9" stroke="#000" stroke-width="2.3"/>
<text transform="translate(1880.4,1093.4) scale(0.985,1)" font-family='"Liberation Sans", "DejaVu Sans", sans-serif' font-size="52.6" font-weight="normal" fill="#000" text-anchor="middle">8</text>
<line x1="1963.2" y1="238.4" x2="1963.2" y2="246.4" stroke="#000" stroke-width="2.3"/>
<line x1="1963.2" y1="1025.9" x2="1963.2" y2="1033.9" stroke="#000" stroke-width="2.3"/>
<line x1="2044.6" y1="238.4" x2="2044.6" y2="254.4" stroke="#000" stroke-width="2.3"/>
<line x1="2044.6" y1="1025.9" x2="2044.6" y2="1041.9" stroke="#000" stroke-width="2.3"/>
<text transform="translate(2043.1,1093.4) scale(0.985,1)" font-family='"Liberation Sans", "DejaVu Sans", sans-serif' font-size="52.6" font-weight="normal" fill="#000" text-anchor="middle">9</text>
<line x1="2125.9" y1="238.4" x2="2125.9" y2="246.4" stroke="#000" stroke-width="2.3"/>
<line x1="2125.9" y1="1025.9" x2="2125.9" y2="1033.9" stroke="#000" stroke-width="2.3"/>
<line x1="2125.9" y1="237.25" x2="2125.9" y2="1027.0500000000002" stroke="#F03E3E" stroke-width="2.3"/>
<line x1="2125.9" y1="1025.9" x2="2141.4" y2="1025.9" stroke="#F03E3E" stroke-width="2.3"/>
<text transform="translate(2151.3,1036.1) scale(0.97,1)" font-family='"Liberation Sans", "DejaVu Sans", sans-serif' font-size="35.5" font-weight="normal" fill="#F03E3E" text-anchor="start">0</text>
<line x1="2125.9" y1="960.3" x2="2134.1" y2="960.3" stroke="#F03E3E" stroke-width="2.3"/>
<line x1="2125.9" y1="894.7" x2="2141.4" y2="894.7" stroke="#F03E3E" stroke-width="2.3"/>
<text transform="translate(2151.3,904.9) scale(0.97,1)" font-family='"Liberation Sans", "DejaVu Sans", sans-serif' font-size="35.5" font-weight="normal" fill="#F03E3E" text-anchor="start">2</text>
<line x1="2125.9" y1="829.0" x2="2134.1" y2="829.0" stroke="#F03E3E" stroke-width="2.3"/>
<line x1="2125.9" y1="763.4" x2="2141.4" y2="763.4" stroke="#F03E3E" stroke-width="2.3"/>
<text transform="translate(2151.3,773.6) scale(0.97,1)" font-family='"Liberation Sans", "DejaVu Sans", sans-serif' font-size="35.5" font-weight="normal" fill="#F03E3E" text-anchor="start">4</text>
<line x1="2125.9" y1="697.8" x2="2134.1" y2="697.8" stroke="#F03E3E" stroke-width="2.3"/>
<line x1="2125.9" y1="632.2" x2="2141.4" y2="632.2" stroke="#F03E3E" stroke-width="2.3"/>
<text transform="translate(2151.3,642.4) scale(0.97,1)" font-family='"Liberation Sans", "DejaVu Sans", sans-serif' font-size="35.5" font-weight="normal" fill="#F03E3E" text-anchor="start">6</text>
<line x1="2125.9" y1="566.5" x2="2134.1" y2="566.5" stroke="#F03E3E" stroke-width="2.3"/>
<line x1="2125.9" y1="500.9" x2="2141.4" y2="500.9" stroke="#F03E3E" stroke-width="2.3"/>
<text transform="translate(2151.3,511.1) scale(0.97,1)" font-family='"Liberation Sans", "DejaVu Sans", sans-serif' font-size="35.5" font-weight="normal" fill="#F03E3E" text-anchor="start">8</text>
<line x1="2125.9" y1="435.3" x2="2134.1" y2="435.3" stroke="#F03E3E" stroke-width="2.3"/>
<line x1="2125.9" y1="369.6" x2="2141.4" y2="369.6" stroke="#F03E3E" stroke-width="2.3"/>
<text transform="translate(2151.3,379.8) scale(0.97,1)" font-family='"Liberation Sans", "DejaVu Sans", sans-serif' font-size="35.5" font-weight="normal" fill="#F03E3E" text-anchor="start">10</text>
<line x1="2125.9" y1="304.0" x2="2134.1" y2="304.0" stroke="#F03E3E" stroke-width="2.3"/>
<line x1="2125.9" y1="238.4" x2="2141.4" y2="238.4" stroke="#F03E3E" stroke-width="2.3"/>
<text transform="translate(2151.3,248.6) scale(0.97,1)" font-family='"Liberation Sans", "DejaVu Sans", sans-serif' font-size="35.5" font-weight="normal" fill="#F03E3E" text-anchor="start">12</text>
<text transform="translate(1437.70,1176.90) scale(0.9932,1.0000)" font-family='"Liberation Sans", "DejaVu Sans", sans-serif' font-size="52.76" font-weight="normal" fill="#000">Frequency (GHz)</text>
<text transform="translate(1013.60,829.29) rotate(-90) scale(0.9933,1.0000)" font-family='"Liberation Sans", "DejaVu Sans", sans-serif' font-size="52.62" font-weight="normal" fill="#000">Return Loss (dB)</text>
<text transform="translate(2244.80,748.41) rotate(-90) scale(0.9888,1.0000)" font-family='"Liberation Sans", "DejaVu Sans", sans-serif' font-size="52.42" font-weight="normal" fill="#000">Gain (dBi)</text>
<text font-family='"Liberation Serif", "DejaVu Serif", serif' fill="#000"><tspan x="1576.47" y="1261.23" font-size="60.00" font-weight="normal" textLength="18.411" lengthAdjust="spacingAndGlyphs">(</tspan><tspan x="1595.00" y="1262.00" font-size="60.97" font-weight="bold" textLength="35.165" lengthAdjust="spacingAndGlyphs">b</tspan><tspan x="1630.92" y="1261.23" font-size="60.00" font-weight="normal" textLength="18.411" lengthAdjust="spacingAndGlyphs">)</tspan></text>
</g>
</svg>
</body></html>
